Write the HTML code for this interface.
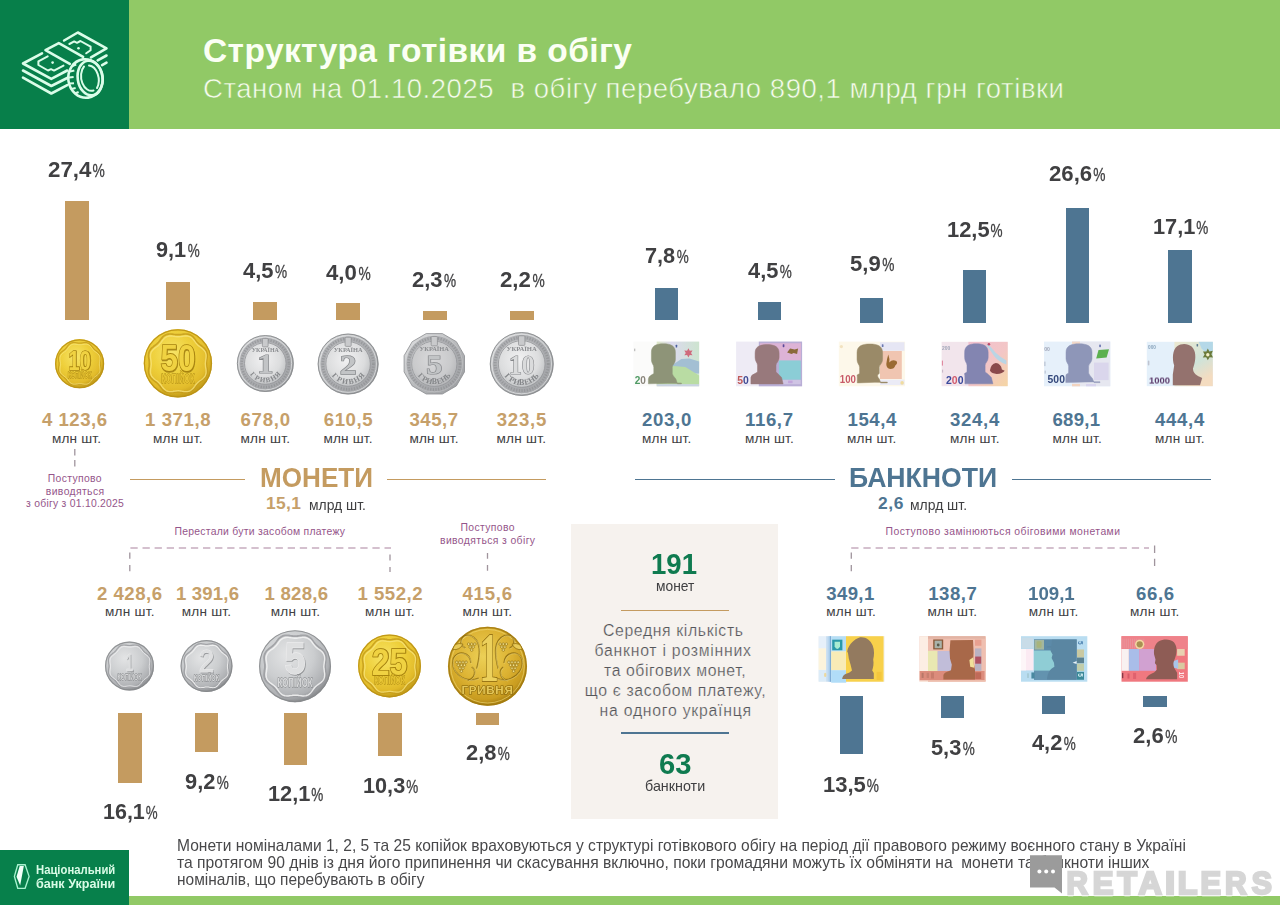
<!DOCTYPE html>
<html lang="uk"><head><meta charset="utf-8"><title>Структура готівки в обігу</title>
<style>
html,body{margin:0;padding:0;background:#fff;}
body{width:1280px;height:905px;position:relative;overflow:hidden;font-family:"Liberation Sans",sans-serif;}
.t{position:absolute;white-space:nowrap;line-height:1;transform-origin:0 50%;}
.p{font-size:17.5px;font-weight:400;display:inline-block;transform:scaleX(.8);transform-origin:0 50%;margin:0 -3.2px 0 1.5px;-webkit-text-stroke:.3px #404042;}
.r{position:absolute;}
svg{position:absolute;overflow:visible;}
</style></head><body>

<div class="r" style="left:0;top:0;width:1280px;height:129px;background:#91c966"></div>
<div class="r" style="left:0;top:0;width:129px;height:129px;background:#077f4a"></div>
<div class="r" style="left:129px;top:896px;width:1151px;height:9px;background:#91c966"></div>
<div class="r" style="left:0;top:849.5px;width:128.7px;height:55.5px;background:#07804b"></div>
<div class="r" style="left:65px;top:201px;width:24px;height:119px;background:#c49b60"></div>
<div class="r" style="left:166px;top:282px;width:24px;height:38px;background:#c49b60"></div>
<div class="r" style="left:253px;top:302px;width:24px;height:18px;background:#c49b60"></div>
<div class="r" style="left:336px;top:303px;width:24px;height:17px;background:#c49b60"></div>
<div class="r" style="left:423px;top:311px;width:24px;height:9px;background:#c49b60"></div>
<div class="r" style="left:510px;top:311px;width:24px;height:9px;background:#c49b60"></div>
<div class="r" style="left:654.5px;top:287.5px;width:23.75px;height:32.5px;background:#4e7592"></div>
<div class="r" style="left:757.5px;top:301.75px;width:23.25px;height:18.25px;background:#4e7592"></div>
<div class="r" style="left:860px;top:298px;width:23.25px;height:24.5px;background:#4e7592"></div>
<div class="r" style="left:963px;top:269.5px;width:23.25px;height:53.0px;background:#4e7592"></div>
<div class="r" style="left:1065.75px;top:208.25px;width:23.5px;height:114.25px;background:#4e7592"></div>
<div class="r" style="left:1168.25px;top:249.5px;width:23.5px;height:73.0px;background:#4e7592"></div>
<div class="r" style="left:130px;top:478.5px;width:115px;height:1.5px;background:#c49b60"></div>
<div class="r" style="left:387px;top:478.5px;width:159.25px;height:1.5px;background:#c49b60"></div>
<div class="r" style="left:635px;top:478.5px;width:200px;height:1.5px;background:#4e7592"></div>
<div class="r" style="left:1012px;top:478.5px;width:199.25px;height:1.5px;background:#4e7592"></div>
<div class="r" style="left:118px;top:713px;width:23.5px;height:69.5px;background:#c49b60"></div>
<div class="r" style="left:195px;top:713px;width:23px;height:38.75px;background:#c49b60"></div>
<div class="r" style="left:284px;top:713px;width:23px;height:52px;background:#c49b60"></div>
<div class="r" style="left:378px;top:713px;width:23.75px;height:43px;background:#c49b60"></div>
<div class="r" style="left:475.5px;top:713px;width:23.5px;height:11.5px;background:#c49b60"></div>
<div class="r" style="left:839.5px;top:695.8px;width:23.5px;height:58.2px;background:#4e7592"></div>
<div class="r" style="left:940.6px;top:695.8px;width:23.4px;height:22.7px;background:#4e7592"></div>
<div class="r" style="left:1042px;top:695.8px;width:23.4px;height:18.2px;background:#4e7592"></div>
<div class="r" style="left:1143px;top:695.8px;width:23.8px;height:11.2px;background:#4e7592"></div>
<div class="r" style="left:571.3px;top:524px;width:207.2px;height:294.6px;background:#f6f2ee"></div>
<div class="r" style="left:620.8px;top:609.7px;width:108.2px;height:1.5px;background:#c49b60"></div>
<div class="r" style="left:620.8px;top:732px;width:108.2px;height:1.5px;background:#4e7592"></div>
<svg width="1280" height="905" viewBox="0 0 1280 905" style="left:0;top:0"><defs>
<radialGradient id="gG" cx="42%" cy="36%" r="62%"><stop offset="0" stop-color="#f7e468"/><stop offset=".5" stop-color="#eecf3a"/><stop offset=".85" stop-color="#e2bb2b"/><stop offset="1" stop-color="#c7a01c"/></radialGradient>
<radialGradient id="gG2" cx="45%" cy="38%" r="60%"><stop offset="0" stop-color="#ecd056"/><stop offset=".6" stop-color="#dcb232"/><stop offset=".9" stop-color="#c99c20"/><stop offset="1" stop-color="#ad8414"/></radialGradient>
<radialGradient id="gS" cx="40%" cy="34%" r="66%"><stop offset="0" stop-color="#e3e4e5"/><stop offset=".55" stop-color="#cbcdcf"/><stop offset=".88" stop-color="#aeb0b3"/><stop offset="1" stop-color="#8d8f92"/></radialGradient>
<linearGradient id="gR" x1="0" y1="0" x2="1" y2="1"><stop offset="0" stop-color="#e2e3e4"/><stop offset=".5" stop-color="#babcbe"/><stop offset="1" stop-color="#96989b"/></linearGradient>
<radialGradient id="gI" cx="45%" cy="40%" r="60%"><stop offset="0" stop-color="#f1f1f2"/><stop offset=".7" stop-color="#dcddde"/><stop offset="1" stop-color="#c2c4c6"/></radialGradient>
<filter id="b3" x="-10%" y="-10%" width="120%" height="120%"><feGaussianBlur stdDeviation=".35"/></filter>
<filter id="b6" x="-10%" y="-10%" width="120%" height="120%"><feGaussianBlur stdDeviation=".6"/></filter>
</defs><g fill="none" stroke="#dbfde9" stroke-width="2.6" stroke-linecap="round" stroke-linejoin="round"><path d="M42,53.3 L23,63.5 L51.3,78.9 L67.2,70.5"/><path d="M69.8,63.9 L45.5,50.2 L58.8,43.1 L83.1,56.8"/><path d="M64.1,40.5 L77.8,32.5 L106.5,48.4 L91,57.3"/><path d="M23,70.5 L51.3,86 L67.2,78"/><path d="M23,77.6 L51.3,93.5 L67.2,85.1"/><path d="M97.7,60.4 L106.5,55.5"/><path d="M102.1,65.2 L106.5,62.6"/><path d="M47.7,56.4 L38.4,61.3 L38.4,65 L48,70.5 L51,69.2 L54,70.6 L63.5,65.6" stroke-width="2"/><path d="M69.4,44 L74.2,41.4 L77,42.8 L80.4,41 L90.6,46.7 L90.6,50.2 L86.2,53.3" stroke-width="2"/></g><circle cx="52.6" cy="62.6" r="1.3" fill="#dbfde9"/><circle cx="78.5" cy="48.2" r="1.3" fill="#dbfde9"/><g fill="none" stroke="#dbfde9" stroke-width="2.6" stroke-linecap="round"><ellipse cx="85.5" cy="78.5" rx="17.2" ry="19.3" fill="#077f4a" transform="rotate(-8 85.5 78.5)"/><ellipse cx="90.1" cy="78" rx="12.4" ry="17.5" transform="rotate(-8 90.1 78)"/><path d="M93.5,90.5 A9.3,13.6 -8 0 1 84,66.5" stroke-width="2"/><path d="M89,65.5 A9.3,13.6 -8 0 1 97,88" stroke-width="2"/></g><g stroke="#dbfde9" stroke-width="2.1" stroke-linecap="butt"><path d="M72.3,66 L76.2,64.6"/><path d="M70,71.5 L74.3,70.5"/><path d="M69,77.5 L73.6,77"/><path d="M69.5,83.5 L74,83.3"/><path d="M71.5,89 L75.6,88"/><path d="M75,93.5 L78.6,92"/></g><g filter="url(#b3)"><circle cx="79.6" cy="363.7" r="24.6" fill="url(#gG)"/><circle cx="79.6" cy="363.7" r="23.900000000000002" fill="none" stroke="#b98f14" stroke-width="1.2" opacity=".85"/><path d="M100.1,363.7 L100.2,364.5 L100.2,365.3 L100.4,366.2 L100.5,367.0 L100.6,367.9 L100.7,368.8 L100.7,369.6 L100.6,370.5 L100.4,371.4 L100.2,372.2 L99.8,373.0 L99.3,373.7 L98.7,374.4 L98.1,375.0 L97.4,375.6 L96.7,376.1 L96.0,376.6 L95.3,377.1 L94.7,377.7 L94.1,378.2 L93.6,378.8 L93.0,379.4 L92.5,380.1 L92.0,380.8 L91.5,381.5 L90.9,382.2 L90.3,382.8 L89.6,383.4 L88.9,383.9 L88.1,384.3 L87.3,384.5 L86.4,384.7 L85.5,384.8 L84.7,384.8 L83.8,384.7 L82.9,384.6 L82.1,384.5 L81.2,384.3 L80.4,384.3 L79.6,384.2 L78.8,384.3 L78.0,384.3 L77.1,384.5 L76.3,384.6 L75.4,384.7 L74.5,384.8 L73.7,384.8 L72.8,384.7 L71.9,384.5 L71.1,384.3 L70.3,383.9 L69.6,383.4 L68.9,382.8 L68.3,382.2 L67.7,381.5 L67.2,380.8 L66.7,380.1 L66.2,379.4 L65.6,378.8 L65.1,378.2 L64.5,377.7 L63.9,377.1 L63.2,376.6 L62.5,376.1 L61.8,375.6 L61.1,375.0 L60.5,374.4 L59.9,373.7 L59.4,373.0 L59.0,372.2 L58.8,371.4 L58.6,370.5 L58.5,369.6 L58.5,368.8 L58.6,367.9 L58.7,367.0 L58.8,366.2 L59.0,365.3 L59.0,364.5 L59.1,363.7 L59.0,362.9 L59.0,362.1 L58.8,361.2 L58.7,360.4 L58.6,359.5 L58.5,358.6 L58.5,357.8 L58.6,356.9 L58.8,356.0 L59.0,355.2 L59.4,354.4 L59.9,353.7 L60.5,353.0 L61.1,352.4 L61.8,351.8 L62.5,351.3 L63.2,350.8 L63.9,350.3 L64.5,349.7 L65.1,349.2 L65.6,348.6 L66.2,348.0 L66.7,347.3 L67.2,346.6 L67.7,345.9 L68.3,345.2 L68.9,344.6 L69.6,344.0 L70.3,343.5 L71.1,343.1 L71.9,342.9 L72.8,342.7 L73.7,342.6 L74.5,342.6 L75.4,342.7 L76.3,342.8 L77.1,342.9 L78.0,343.1 L78.8,343.1 L79.6,343.2 L80.4,343.1 L81.2,343.1 L82.1,342.9 L82.9,342.8 L83.8,342.7 L84.7,342.6 L85.5,342.6 L86.4,342.7 L87.3,342.9 L88.1,343.1 L88.9,343.5 L89.6,344.0 L90.3,344.6 L90.9,345.2 L91.5,345.9 L92.0,346.6 L92.5,347.3 L93.0,348.0 L93.6,348.6 L94.1,349.2 L94.7,349.7 L95.3,350.3 L96.0,350.8 L96.7,351.3 L97.4,351.8 L98.1,352.4 L98.7,353.0 L99.3,353.7 L99.8,354.4 L100.2,355.2 L100.4,356.0 L100.6,356.9 L100.7,357.8 L100.7,358.6 L100.6,359.5 L100.5,360.4 L100.4,361.2 L100.2,362.1 L100.2,362.9Z" fill="none" stroke="#c39a1a" stroke-width="1.23" opacity=".8"/><path d="M99.4,364.2 L99.5,365.0 L99.5,365.7 L99.7,366.5 L99.8,367.3 L99.9,368.2 L100.0,369.0 L100.0,369.8 L100.0,370.7 L99.8,371.5 L99.5,372.3 L99.2,373.0 L98.7,373.7 L98.1,374.4 L97.5,374.9 L96.9,375.5 L96.2,376.0 L95.5,376.5 L94.9,376.9 L94.3,377.4 L93.7,377.9 L93.2,378.5 L92.7,379.1 L92.3,379.7 L91.8,380.4 L91.3,381.1 L90.7,381.7 L90.2,382.3 L89.5,382.9 L88.8,383.4 L88.1,383.7 L87.3,384.0 L86.5,384.2 L85.6,384.2 L84.8,384.2 L84.0,384.1 L83.1,384.0 L82.3,383.9 L81.5,383.7 L80.8,383.7 L80.0,383.6 L79.2,383.7 L78.5,383.7 L77.7,383.9 L76.9,384.0 L76.0,384.1 L75.2,384.2 L74.4,384.2 L73.5,384.2 L72.7,384.0 L71.9,383.7 L71.2,383.4 L70.5,382.9 L69.8,382.3 L69.3,381.7 L68.7,381.1 L68.2,380.4 L67.7,379.7 L67.3,379.1 L66.8,378.5 L66.3,377.9 L65.7,377.4 L65.1,376.9 L64.5,376.5 L63.8,376.0 L63.1,375.5 L62.5,374.9 L61.9,374.4 L61.3,373.7 L60.8,373.0 L60.5,372.3 L60.2,371.5 L60.0,370.7 L60.0,369.8 L60.0,369.0 L60.1,368.2 L60.2,367.3 L60.3,366.5 L60.5,365.7 L60.5,365.0 L60.6,364.2 L60.5,363.4 L60.5,362.7 L60.3,361.9 L60.2,361.1 L60.1,360.2 L60.0,359.4 L60.0,358.6 L60.0,357.7 L60.2,356.9 L60.5,356.1 L60.8,355.4 L61.3,354.7 L61.9,354.0 L62.5,353.5 L63.1,352.9 L63.8,352.4 L64.5,351.9 L65.1,351.5 L65.7,351.0 L66.3,350.5 L66.8,349.9 L67.3,349.3 L67.7,348.7 L68.2,348.0 L68.7,347.3 L69.3,346.7 L69.8,346.1 L70.5,345.5 L71.2,345.0 L71.9,344.7 L72.7,344.4 L73.5,344.2 L74.4,344.2 L75.2,344.2 L76.0,344.3 L76.9,344.4 L77.7,344.5 L78.5,344.7 L79.2,344.7 L80.0,344.8 L80.8,344.7 L81.5,344.7 L82.3,344.5 L83.1,344.4 L84.0,344.3 L84.8,344.2 L85.6,344.2 L86.5,344.2 L87.3,344.4 L88.1,344.7 L88.8,345.0 L89.5,345.5 L90.2,346.1 L90.7,346.7 L91.3,347.3 L91.8,348.0 L92.3,348.7 L92.7,349.3 L93.2,349.9 L93.7,350.5 L94.3,351.0 L94.9,351.5 L95.5,351.9 L96.2,352.4 L96.9,352.9 L97.5,353.5 L98.1,354.0 L98.7,354.7 L99.2,355.4 L99.5,356.1 L99.8,356.9 L100.0,357.7 L100.0,358.6 L100.0,359.4 L99.9,360.2 L99.8,361.1 L99.7,361.9 L99.5,362.7 L99.5,363.4Z" fill="none" stroke="#f8e680" stroke-width="0.98" opacity=".75"/><text x="0" y="0" transform="translate(80.19999999999999,370.36799999999994) scale(0.720,1)" text-anchor="middle" font-family="Liberation Sans, sans-serif" font-weight="700" font-size="28.4" fill="#8a6806" stroke="#8a6806" stroke-width="1.13" opacity=".65">10</text><text x="0" y="0" transform="translate(79.6,369.66799999999995) scale(0.720,1)" text-anchor="middle" font-family="Liberation Sans, sans-serif" font-weight="700" font-size="28.4" fill="#f0d242" stroke="#a8830f" stroke-width="1.13" paint-order="stroke">10</text><text x="0" y="0" transform="translate(79.6,378.091) scale(.62,1)" text-anchor="middle" font-family="Liberation Sans, sans-serif" font-weight="700" font-size="8.6" fill="#e8c432" stroke="#a48010" stroke-width=".8" paint-order="stroke">КОПІЙОК</text></g><g filter="url(#b3)"><circle cx="177.9" cy="363.3" r="34.2" fill="url(#gG)"/><circle cx="177.9" cy="363.3" r="33.5" fill="none" stroke="#b98f14" stroke-width="1.2" opacity=".85"/><path d="M206.5,363.3 L206.5,364.4 L206.6,365.6 L206.7,366.7 L206.9,367.9 L207.1,369.1 L207.2,370.3 L207.2,371.6 L207.1,372.8 L206.9,374.0 L206.5,375.1 L206.0,376.2 L205.3,377.2 L204.5,378.2 L203.6,379.0 L202.6,379.8 L201.7,380.6 L200.7,381.3 L199.8,382.0 L198.9,382.7 L198.1,383.5 L197.3,384.3 L196.6,385.2 L195.9,386.1 L195.2,387.1 L194.4,388.0 L193.6,389.0 L192.8,389.9 L191.8,390.7 L190.8,391.4 L189.7,391.9 L188.6,392.3 L187.4,392.5 L186.2,392.6 L184.9,392.6 L183.7,392.5 L182.5,392.3 L181.3,392.1 L180.2,392.0 L179.0,391.9 L177.9,391.9 L176.8,391.9 L175.6,392.0 L174.5,392.1 L173.3,392.3 L172.1,392.5 L170.9,392.6 L169.6,392.6 L168.4,392.5 L167.2,392.3 L166.1,391.9 L165.0,391.4 L164.0,390.7 L163.0,389.9 L162.2,389.0 L161.4,388.0 L160.6,387.1 L159.9,386.1 L159.2,385.2 L158.5,384.3 L157.7,383.5 L156.9,382.7 L156.0,382.0 L155.1,381.3 L154.1,380.6 L153.2,379.8 L152.2,379.0 L151.3,378.2 L150.5,377.2 L149.8,376.2 L149.3,375.1 L148.9,374.0 L148.7,372.8 L148.6,371.6 L148.6,370.3 L148.7,369.1 L148.9,367.9 L149.1,366.7 L149.2,365.6 L149.3,364.4 L149.3,363.3 L149.3,362.2 L149.2,361.0 L149.1,359.9 L148.9,358.7 L148.7,357.5 L148.6,356.3 L148.6,355.0 L148.7,353.8 L148.9,352.6 L149.3,351.5 L149.8,350.4 L150.5,349.4 L151.3,348.4 L152.2,347.6 L153.2,346.8 L154.1,346.0 L155.1,345.3 L156.0,344.6 L156.9,343.9 L157.7,343.1 L158.5,342.3 L159.2,341.4 L159.9,340.5 L160.6,339.5 L161.4,338.6 L162.2,337.6 L163.0,336.7 L164.0,335.9 L165.0,335.2 L166.1,334.7 L167.2,334.3 L168.4,334.1 L169.6,334.0 L170.9,334.0 L172.1,334.1 L173.3,334.3 L174.5,334.5 L175.6,334.6 L176.8,334.7 L177.9,334.7 L179.0,334.7 L180.2,334.6 L181.3,334.5 L182.5,334.3 L183.7,334.1 L184.9,334.0 L186.2,334.0 L187.4,334.1 L188.6,334.3 L189.7,334.7 L190.8,335.2 L191.8,335.9 L192.8,336.7 L193.6,337.6 L194.4,338.6 L195.2,339.5 L195.9,340.5 L196.6,341.4 L197.3,342.3 L198.1,343.1 L198.9,343.9 L199.8,344.6 L200.7,345.3 L201.7,346.0 L202.6,346.8 L203.6,347.6 L204.5,348.4 L205.3,349.4 L206.0,350.4 L206.5,351.5 L206.9,352.6 L207.1,353.8 L207.2,355.0 L207.2,356.3 L207.1,357.5 L206.9,358.7 L206.7,359.9 L206.6,361.0 L206.5,362.2Z" fill="none" stroke="#c39a1a" stroke-width="1.71" opacity=".8"/><path d="M205.3,363.8 L205.4,364.9 L205.5,365.9 L205.6,367.0 L205.8,368.2 L206.0,369.3 L206.1,370.5 L206.1,371.6 L206.1,372.8 L205.8,374.0 L205.5,375.1 L205.0,376.1 L204.3,377.0 L203.5,377.9 L202.7,378.7 L201.8,379.5 L200.8,380.2 L199.9,380.8 L199.0,381.5 L198.2,382.2 L197.4,382.9 L196.7,383.7 L196.0,384.5 L195.3,385.4 L194.7,386.3 L194.0,387.3 L193.2,388.2 L192.4,389.0 L191.5,389.8 L190.6,390.5 L189.6,391.0 L188.5,391.3 L187.3,391.6 L186.1,391.6 L185.0,391.6 L183.8,391.5 L182.7,391.3 L181.5,391.1 L180.4,391.0 L179.4,390.9 L178.3,390.8 L177.2,390.9 L176.2,391.0 L175.1,391.1 L173.9,391.3 L172.8,391.5 L171.6,391.6 L170.5,391.6 L169.3,391.6 L168.1,391.3 L167.0,391.0 L166.0,390.5 L165.1,389.8 L164.2,389.0 L163.4,388.2 L162.6,387.3 L161.9,386.3 L161.3,385.4 L160.6,384.5 L159.9,383.7 L159.2,382.9 L158.4,382.2 L157.6,381.5 L156.7,380.8 L155.8,380.2 L154.8,379.5 L153.9,378.7 L153.1,377.9 L152.3,377.0 L151.6,376.1 L151.1,375.1 L150.8,374.0 L150.5,372.8 L150.5,371.6 L150.5,370.5 L150.6,369.3 L150.8,368.2 L151.0,367.0 L151.1,365.9 L151.2,364.9 L151.3,363.8 L151.2,362.7 L151.1,361.7 L151.0,360.6 L150.8,359.4 L150.6,358.3 L150.5,357.1 L150.5,356.0 L150.5,354.8 L150.8,353.6 L151.1,352.5 L151.6,351.5 L152.3,350.6 L153.1,349.7 L153.9,348.9 L154.8,348.1 L155.8,347.4 L156.7,346.8 L157.6,346.1 L158.4,345.4 L159.2,344.7 L159.9,343.9 L160.6,343.1 L161.3,342.2 L161.9,341.3 L162.6,340.3 L163.4,339.4 L164.2,338.6 L165.1,337.8 L166.0,337.1 L167.0,336.6 L168.1,336.3 L169.3,336.0 L170.5,336.0 L171.6,336.0 L172.8,336.1 L173.9,336.3 L175.1,336.5 L176.2,336.6 L177.2,336.7 L178.3,336.8 L179.4,336.7 L180.4,336.6 L181.5,336.5 L182.7,336.3 L183.8,336.1 L185.0,336.0 L186.1,336.0 L187.3,336.0 L188.5,336.3 L189.6,336.6 L190.6,337.1 L191.5,337.8 L192.4,338.6 L193.2,339.4 L194.0,340.3 L194.7,341.3 L195.3,342.2 L196.0,343.1 L196.7,343.9 L197.4,344.7 L198.2,345.4 L199.0,346.1 L199.9,346.8 L200.8,347.4 L201.8,348.1 L202.7,348.9 L203.5,349.7 L204.3,350.6 L205.0,351.5 L205.5,352.5 L205.8,353.6 L206.1,354.8 L206.1,356.0 L206.1,357.1 L206.0,358.3 L205.8,359.4 L205.6,360.6 L205.5,361.7 L205.4,362.7Z" fill="none" stroke="#f8e680" stroke-width="1.37" opacity=".75"/><text x="0" y="0" transform="translate(178.5,371.686) scale(0.835,1)" text-anchor="middle" font-family="Liberation Sans, sans-serif" font-weight="700" font-size="37.7" fill="#8a6806" stroke="#8a6806" stroke-width="1.51" opacity=".65">50</text><text x="0" y="0" transform="translate(177.9,370.986) scale(0.835,1)" text-anchor="middle" font-family="Liberation Sans, sans-serif" font-weight="700" font-size="37.7" fill="#f0d242" stroke="#a8830f" stroke-width="1.51" paint-order="stroke">50</text><text x="0" y="0" transform="translate(177.9,383.307) scale(.62,1)" text-anchor="middle" font-family="Liberation Sans, sans-serif" font-weight="700" font-size="11.9" fill="#e8c432" stroke="#a48010" stroke-width=".8" paint-order="stroke">КОПІЙОК</text></g><g filter="url(#b3)"><circle cx="265.3" cy="363.5" r="28.5" fill="url(#gR)"/><circle cx="265.3" cy="363.5" r="27.9" fill="none" stroke="#85878a" stroke-width="1" opacity=".85"/><circle cx="265.3" cy="363.5" r="26.3" fill="none" stroke="#e0e1e2" stroke-width="1" opacity=".8"/><circle cx="265.3" cy="363.5" r="23.654999999999998" fill="none" stroke="#a6a8ab" stroke-width="4.27" opacity=".8"/><circle cx="265.3" cy="363.5" r="23.654999999999998" fill="none" stroke="#86888b" stroke-width="2.56" stroke-dasharray="1.2 1.5" opacity=".55"/><circle cx="265.3" cy="363.5" r="20.805" fill="url(#gI)" stroke="#909295" stroke-width=".8"/><rect x="262.4" y="338.4" width="5.7" height="8.5" rx="1" fill="#c9cacc" stroke="#8c8e91" stroke-width=".7"/><text x="0" y="0" transform="translate(265.3,352.1) scale(.95,1)" text-anchor="middle" font-family="Liberation Serif, serif" font-weight="700" font-size="6.3" fill="#8a8c8f">УКРАЇНА</text><text x="0" y="0" transform="translate(265.3,373.22) scale(1.2,1)" text-anchor="middle" font-family="Liberation Serif, serif" font-weight="700" font-size="27" fill="#c2c4c6" stroke="#86888b" stroke-width="1.21" paint-order="stroke">1</text><text x="0" y="0" transform="translate(251.3,376.1) rotate(48)" text-anchor="middle" font-family="Liberation Serif, serif" font-weight="700" font-size="7.125" fill="#85878a">Г</text><text x="0" y="0" transform="translate(256.2,380.0) rotate(29)" text-anchor="middle" font-family="Liberation Serif, serif" font-weight="700" font-size="7.125" fill="#85878a">Р</text><text x="0" y="0" transform="translate(262.2,382.0) rotate(10)" text-anchor="middle" font-family="Liberation Serif, serif" font-weight="700" font-size="7.125" fill="#85878a">И</text><text x="0" y="0" transform="translate(268.4,382.0) rotate(-10)" text-anchor="middle" font-family="Liberation Serif, serif" font-weight="700" font-size="7.125" fill="#85878a">В</text><text x="0" y="0" transform="translate(274.4,380.0) rotate(-29)" text-anchor="middle" font-family="Liberation Serif, serif" font-weight="700" font-size="7.125" fill="#85878a">Н</text><text x="0" y="0" transform="translate(279.3,376.1) rotate(-48)" text-anchor="middle" font-family="Liberation Serif, serif" font-weight="700" font-size="7.125" fill="#85878a">Я</text></g><g filter="url(#b3)"><circle cx="348.1" cy="364" r="30.5" fill="url(#gR)"/><circle cx="348.1" cy="364" r="29.9" fill="none" stroke="#85878a" stroke-width="1" opacity=".85"/><circle cx="348.1" cy="364" r="28.3" fill="none" stroke="#e0e1e2" stroke-width="1" opacity=".8"/><circle cx="348.1" cy="364" r="25.314999999999998" fill="none" stroke="#a6a8ab" stroke-width="4.58" opacity=".8"/><circle cx="348.1" cy="364" r="25.314999999999998" fill="none" stroke="#86888b" stroke-width="2.75" stroke-dasharray="1.2 1.5" opacity=".55"/><circle cx="348.1" cy="364" r="22.265" fill="url(#gI)" stroke="#909295" stroke-width=".8"/><rect x="345.1" y="337.2" width="6.1" height="9.2" rx="1" fill="#c9cacc" stroke="#8c8e91" stroke-width=".7"/><text x="0" y="0" transform="translate(348.1,351.8) scale(.95,1)" text-anchor="middle" font-family="Liberation Serif, serif" font-weight="700" font-size="6.7" fill="#8a8c8f">УКРАЇНА</text><text x="0" y="0" transform="translate(348.1,374.08) scale(1.2,1)" text-anchor="middle" font-family="Liberation Serif, serif" font-weight="700" font-size="28" fill="#c2c4c6" stroke="#86888b" stroke-width="1.26" paint-order="stroke">2</text><text x="0" y="0" transform="translate(333.1,377.5) rotate(48)" text-anchor="middle" font-family="Liberation Serif, serif" font-weight="700" font-size="7.625" fill="#85878a">Г</text><text x="0" y="0" transform="translate(338.4,381.6) rotate(29)" text-anchor="middle" font-family="Liberation Serif, serif" font-weight="700" font-size="7.625" fill="#85878a">Р</text><text x="0" y="0" transform="translate(344.7,383.8) rotate(10)" text-anchor="middle" font-family="Liberation Serif, serif" font-weight="700" font-size="7.625" fill="#85878a">И</text><text x="0" y="0" transform="translate(351.5,383.8) rotate(-10)" text-anchor="middle" font-family="Liberation Serif, serif" font-weight="700" font-size="7.625" fill="#85878a">В</text><text x="0" y="0" transform="translate(357.8,381.6) rotate(-29)" text-anchor="middle" font-family="Liberation Serif, serif" font-weight="700" font-size="7.625" fill="#85878a">Н</text><text x="0" y="0" transform="translate(363.1,377.5) rotate(-48)" text-anchor="middle" font-family="Liberation Serif, serif" font-weight="700" font-size="7.625" fill="#85878a">Я</text></g><g filter="url(#b3)"><polygon points="464.5,371.9 456.4,385.9 442.4,394.0 426.2,394.0 412.2,385.9 404.1,371.9 404.1,355.7 412.2,341.7 426.2,333.6 442.4,333.6 456.4,341.7 464.5,355.7" fill="url(#gR)" stroke="#8a8c8f" stroke-width=".8" stroke-linejoin="round"/><circle cx="434.3" cy="363.8" r="27.900000000000002" fill="none" stroke="#e4e5e6" stroke-width=".8" opacity=".8"/><circle cx="434.3" cy="363.8" r="25.73" fill="none" stroke="#a6a8ab" stroke-width="4.65" opacity=".8"/><circle cx="434.3" cy="363.8" r="25.73" fill="none" stroke="#86888b" stroke-width="2.79" stroke-dasharray="1.2 1.5" opacity=".55"/><circle cx="434.3" cy="363.8" r="22.63" fill="url(#gI)" stroke="#909295" stroke-width=".8"/><circle cx="434.3" cy="363.8" r="22.32" fill="#9a9c9f" opacity=".28"/><rect x="431.2" y="336.5" width="6.2" height="9.3" rx="1" fill="#c9cacc" stroke="#8c8e91" stroke-width=".7"/><text x="0" y="0" transform="translate(434.3,351.40000000000003) scale(.95,1)" text-anchor="middle" font-family="Liberation Serif, serif" font-weight="700" font-size="6.8" fill="#8a8c8f">УКРАЇНА</text><text x="0" y="0" transform="translate(434.3,373.52) scale(1.2,1)" text-anchor="middle" font-family="Liberation Serif, serif" font-weight="700" font-size="27" fill="#c2c4c6" stroke="#86888b" stroke-width="1.21" paint-order="stroke">5</text><text x="0" y="0" transform="translate(419.1,377.5) rotate(48)" text-anchor="middle" font-family="Liberation Serif, serif" font-weight="700" font-size="7.75" fill="#85878a">Г</text><text x="0" y="0" transform="translate(423.5,381.2) rotate(32)" text-anchor="middle" font-family="Liberation Serif, serif" font-weight="700" font-size="7.75" fill="#85878a">Р</text><text x="0" y="0" transform="translate(428.7,383.5) rotate(16)" text-anchor="middle" font-family="Liberation Serif, serif" font-weight="700" font-size="7.75" fill="#85878a">И</text><text x="0" y="0" transform="translate(434.3,384.3) rotate(0)" text-anchor="middle" font-family="Liberation Serif, serif" font-weight="700" font-size="7.75" fill="#85878a">В</text><text x="0" y="0" transform="translate(439.9,383.5) rotate(-16)" text-anchor="middle" font-family="Liberation Serif, serif" font-weight="700" font-size="7.75" fill="#85878a">Е</text><text x="0" y="0" transform="translate(445.1,381.2) rotate(-32)" text-anchor="middle" font-family="Liberation Serif, serif" font-weight="700" font-size="7.75" fill="#85878a">Н</text><text x="0" y="0" transform="translate(449.5,377.5) rotate(-48)" text-anchor="middle" font-family="Liberation Serif, serif" font-weight="700" font-size="7.75" fill="#85878a">Ь</text></g><g filter="url(#b3)"><circle cx="521.7" cy="364" r="32" fill="url(#gR)"/><circle cx="521.7" cy="364" r="31.4" fill="none" stroke="#85878a" stroke-width="1" opacity=".85"/><circle cx="521.7" cy="364" r="29.8" fill="none" stroke="#e0e1e2" stroke-width="1" opacity=".8"/><circle cx="521.7" cy="364" r="26.56" fill="none" stroke="#a6a8ab" stroke-width="4.80" opacity=".8"/><circle cx="521.7" cy="364" r="26.56" fill="none" stroke="#86888b" stroke-width="2.88" stroke-dasharray="1.2 1.5" opacity=".55"/><circle cx="521.7" cy="364" r="23.36" fill="url(#gI)" stroke="#909295" stroke-width=".8"/><rect x="518.5" y="335.8" width="6.4" height="9.6" rx="1" fill="#c9cacc" stroke="#8c8e91" stroke-width=".7"/><text x="0" y="0" transform="translate(521.7,351.2) scale(.95,1)" text-anchor="middle" font-family="Liberation Serif, serif" font-weight="700" font-size="7.0" fill="#8a8c8f">УКРАЇНА</text><text x="0" y="0" transform="translate(521.7,373.72) scale(0.95,1)" text-anchor="middle" font-family="Liberation Serif, serif" font-weight="700" font-size="27" fill="#dadbdc" stroke="#86888b" stroke-width="1.21" paint-order="stroke">10</text><text x="0" y="0" transform="translate(506.0,378.1) rotate(48)" text-anchor="middle" font-family="Liberation Serif, serif" font-weight="700" font-size="8.0" fill="#85878a">Г</text><text x="0" y="0" transform="translate(510.5,381.9) rotate(32)" text-anchor="middle" font-family="Liberation Serif, serif" font-weight="700" font-size="8.0" fill="#85878a">Р</text><text x="0" y="0" transform="translate(515.9,384.3) rotate(16)" text-anchor="middle" font-family="Liberation Serif, serif" font-weight="700" font-size="8.0" fill="#85878a">И</text><text x="0" y="0" transform="translate(521.7,385.1) rotate(0)" text-anchor="middle" font-family="Liberation Serif, serif" font-weight="700" font-size="8.0" fill="#85878a">В</text><text x="0" y="0" transform="translate(527.5,384.3) rotate(-16)" text-anchor="middle" font-family="Liberation Serif, serif" font-weight="700" font-size="8.0" fill="#85878a">Е</text><text x="0" y="0" transform="translate(532.9,381.9) rotate(-32)" text-anchor="middle" font-family="Liberation Serif, serif" font-weight="700" font-size="8.0" fill="#85878a">Н</text><text x="0" y="0" transform="translate(537.4,378.1) rotate(-48)" text-anchor="middle" font-family="Liberation Serif, serif" font-weight="700" font-size="8.0" fill="#85878a">Ь</text></g><g filter="url(#b3)"><circle cx="129.5" cy="666" r="24.5" fill="url(#gS)"/><circle cx="129.5" cy="666" r="23.9" fill="none" stroke="#86888b" stroke-width="1.1" opacity=".85"/><path d="M150.0,666.0 L150.0,666.8 L150.1,667.6 L150.2,668.4 L150.3,669.3 L150.4,670.2 L150.5,671.0 L150.5,671.9 L150.4,672.8 L150.3,673.7 L150.0,674.5 L149.6,675.3 L149.1,676.0 L148.5,676.7 L147.9,677.3 L147.2,677.8 L146.5,678.4 L145.8,678.9 L145.2,679.4 L144.6,679.9 L144.0,680.5 L143.4,681.1 L142.9,681.7 L142.4,682.3 L141.9,683.0 L141.3,683.7 L140.8,684.4 L140.2,685.0 L139.5,685.6 L138.8,686.1 L138.0,686.5 L137.2,686.8 L136.3,686.9 L135.4,687.0 L134.5,687.0 L133.7,686.9 L132.8,686.8 L131.9,686.7 L131.1,686.6 L130.3,686.5 L129.5,686.5 L128.7,686.5 L127.9,686.6 L127.1,686.7 L126.2,686.8 L125.3,686.9 L124.5,687.0 L123.6,687.0 L122.7,686.9 L121.8,686.8 L121.0,686.5 L120.2,686.1 L119.5,685.6 L118.8,685.0 L118.2,684.4 L117.7,683.7 L117.1,683.0 L116.6,682.3 L116.1,681.7 L115.6,681.1 L115.0,680.5 L114.4,679.9 L113.8,679.4 L113.2,678.9 L112.5,678.4 L111.8,677.8 L111.1,677.3 L110.5,676.7 L109.9,676.0 L109.4,675.3 L109.0,674.5 L108.7,673.7 L108.6,672.8 L108.5,671.9 L108.5,671.0 L108.6,670.2 L108.7,669.3 L108.8,668.4 L108.9,667.6 L109.0,666.8 L109.0,666.0 L109.0,665.2 L108.9,664.4 L108.8,663.6 L108.7,662.7 L108.6,661.8 L108.5,661.0 L108.5,660.1 L108.6,659.2 L108.7,658.3 L109.0,657.5 L109.4,656.7 L109.9,656.0 L110.5,655.3 L111.1,654.7 L111.8,654.2 L112.5,653.6 L113.2,653.1 L113.8,652.6 L114.4,652.1 L115.0,651.5 L115.6,650.9 L116.1,650.3 L116.6,649.7 L117.1,649.0 L117.7,648.3 L118.2,647.6 L118.8,647.0 L119.5,646.4 L120.2,645.9 L121.0,645.5 L121.8,645.2 L122.7,645.1 L123.6,645.0 L124.5,645.0 L125.3,645.1 L126.2,645.2 L127.1,645.3 L127.9,645.4 L128.7,645.5 L129.5,645.5 L130.3,645.5 L131.1,645.4 L131.9,645.3 L132.8,645.2 L133.7,645.1 L134.5,645.0 L135.4,645.0 L136.3,645.1 L137.2,645.2 L138.0,645.5 L138.8,645.9 L139.5,646.4 L140.2,647.0 L140.8,647.6 L141.3,648.3 L141.9,649.0 L142.4,649.7 L142.9,650.3 L143.4,650.9 L144.0,651.5 L144.6,652.1 L145.2,652.6 L145.8,653.1 L146.5,653.6 L147.2,654.2 L147.9,654.7 L148.5,655.3 L149.1,656.0 L149.6,656.7 L150.0,657.5 L150.3,658.3 L150.4,659.2 L150.5,660.1 L150.5,661.0 L150.4,661.8 L150.3,662.7 L150.2,663.6 L150.1,664.4 L150.0,665.2Z" fill="none" stroke="#97999c" stroke-width="1.23" opacity=".8"/><path d="M149.3,666.5 L149.3,667.3 L149.4,668.0 L149.5,668.8 L149.6,669.6 L149.7,670.4 L149.8,671.3 L149.8,672.1 L149.8,673.0 L149.6,673.8 L149.4,674.6 L149.0,675.3 L148.5,676.0 L148.0,676.6 L147.4,677.2 L146.7,677.7 L146.0,678.2 L145.4,678.7 L144.7,679.2 L144.1,679.7 L143.6,680.2 L143.1,680.7 L142.6,681.3 L142.1,682.0 L141.6,682.6 L141.1,683.3 L140.6,684.0 L140.0,684.6 L139.4,685.1 L138.7,685.6 L138.0,686.0 L137.2,686.2 L136.4,686.4 L135.5,686.4 L134.7,686.4 L133.8,686.3 L133.0,686.2 L132.2,686.1 L131.4,686.0 L130.7,685.9 L129.9,685.9 L129.1,685.9 L128.4,686.0 L127.6,686.1 L126.8,686.2 L126.0,686.3 L125.1,686.4 L124.3,686.4 L123.4,686.4 L122.6,686.2 L121.8,686.0 L121.1,685.6 L120.4,685.1 L119.8,684.6 L119.2,684.0 L118.7,683.3 L118.2,682.6 L117.7,682.0 L117.2,681.3 L116.7,680.7 L116.2,680.2 L115.7,679.7 L115.1,679.2 L114.4,678.7 L113.8,678.2 L113.1,677.7 L112.4,677.2 L111.8,676.6 L111.3,676.0 L110.8,675.3 L110.4,674.6 L110.2,673.8 L110.0,673.0 L110.0,672.1 L110.0,671.3 L110.1,670.4 L110.2,669.6 L110.3,668.8 L110.4,668.0 L110.5,667.3 L110.5,666.5 L110.5,665.7 L110.4,665.0 L110.3,664.2 L110.2,663.4 L110.1,662.6 L110.0,661.7 L110.0,660.9 L110.0,660.0 L110.2,659.2 L110.4,658.4 L110.8,657.7 L111.3,657.0 L111.8,656.4 L112.4,655.8 L113.1,655.3 L113.8,654.8 L114.4,654.3 L115.1,653.8 L115.7,653.3 L116.2,652.8 L116.7,652.3 L117.2,651.7 L117.7,651.0 L118.2,650.4 L118.7,649.7 L119.2,649.0 L119.8,648.4 L120.4,647.9 L121.1,647.4 L121.8,647.0 L122.6,646.8 L123.4,646.6 L124.3,646.6 L125.1,646.6 L126.0,646.7 L126.8,646.8 L127.6,646.9 L128.4,647.0 L129.1,647.1 L129.9,647.1 L130.7,647.1 L131.4,647.0 L132.2,646.9 L133.0,646.8 L133.8,646.7 L134.7,646.6 L135.5,646.6 L136.4,646.6 L137.2,646.8 L138.0,647.0 L138.7,647.4 L139.4,647.9 L140.0,648.4 L140.6,649.0 L141.1,649.7 L141.6,650.4 L142.1,651.0 L142.6,651.7 L143.1,652.3 L143.6,652.8 L144.1,653.3 L144.7,653.8 L145.4,654.3 L146.0,654.8 L146.7,655.3 L147.4,655.8 L148.0,656.4 L148.5,657.0 L149.0,657.7 L149.4,658.4 L149.6,659.2 L149.8,660.0 L149.8,660.9 L149.8,661.7 L149.7,662.6 L149.6,663.4 L149.5,664.2 L149.4,665.0 L149.3,665.7Z" fill="none" stroke="#f4f4f5" stroke-width="0.98" opacity=".85"/><text x="0" y="0" transform="translate(130.2,671.875) scale(0.552,1)" text-anchor="middle" font-family="Liberation Sans, sans-serif" font-weight="400" font-size="24.4" fill="#76787b" stroke="#76787b" stroke-width="0.73" opacity=".65">1</text><text x="0" y="0" transform="translate(129.5,671.075) scale(0.552,1)" text-anchor="middle" font-family="Liberation Sans, sans-serif" font-weight="400" font-size="24.4" fill="#dedfe0" stroke="#ececed" stroke-width="0.73" paint-order="stroke">1</text><text x="0" y="0" transform="translate(129.5,680.3325) scale(.62,1)" text-anchor="middle" font-family="Liberation Sans, sans-serif" font-weight="700" font-size="8.6" fill="#d8d9da" stroke="#77797c" stroke-width=".8" paint-order="stroke">КОПІЙОК</text></g><g filter="url(#b3)"><circle cx="206.5" cy="666" r="26" fill="url(#gS)"/><circle cx="206.5" cy="666" r="25.4" fill="none" stroke="#86888b" stroke-width="1.1" opacity=".85"/><path d="M228.2,666.0 L228.2,666.9 L228.3,667.7 L228.4,668.6 L228.6,669.5 L228.7,670.4 L228.8,671.3 L228.8,672.3 L228.7,673.2 L228.5,674.1 L228.2,675.0 L227.8,675.8 L227.3,676.6 L226.7,677.3 L226.0,678.0 L225.3,678.6 L224.6,679.1 L223.8,679.7 L223.1,680.2 L222.5,680.8 L221.9,681.4 L221.3,682.0 L220.7,682.6 L220.2,683.3 L219.6,684.1 L219.1,684.8 L218.5,685.5 L217.8,686.2 L217.1,686.8 L216.3,687.3 L215.5,687.7 L214.6,688.0 L213.7,688.2 L212.8,688.3 L211.8,688.3 L210.9,688.2 L210.0,688.1 L209.1,687.9 L208.2,687.8 L207.4,687.7 L206.5,687.7 L205.6,687.7 L204.8,687.8 L203.9,687.9 L203.0,688.1 L202.1,688.2 L201.2,688.3 L200.2,688.3 L199.3,688.2 L198.4,688.0 L197.5,687.7 L196.7,687.3 L195.9,686.8 L195.2,686.2 L194.5,685.5 L193.9,684.8 L193.4,684.1 L192.8,683.3 L192.3,682.6 L191.7,682.0 L191.1,681.4 L190.5,680.8 L189.9,680.2 L189.2,679.7 L188.4,679.1 L187.7,678.6 L187.0,678.0 L186.3,677.3 L185.7,676.6 L185.2,675.8 L184.8,675.0 L184.5,674.1 L184.3,673.2 L184.2,672.3 L184.2,671.3 L184.3,670.4 L184.4,669.5 L184.6,668.6 L184.7,667.7 L184.8,666.9 L184.8,666.0 L184.8,665.1 L184.7,664.3 L184.6,663.4 L184.4,662.5 L184.3,661.6 L184.2,660.7 L184.2,659.7 L184.3,658.8 L184.5,657.9 L184.8,657.0 L185.2,656.2 L185.7,655.4 L186.3,654.7 L187.0,654.0 L187.7,653.4 L188.4,652.9 L189.2,652.3 L189.9,651.8 L190.5,651.2 L191.1,650.6 L191.7,650.0 L192.3,649.4 L192.8,648.7 L193.4,647.9 L193.9,647.2 L194.5,646.5 L195.2,645.8 L195.9,645.2 L196.7,644.7 L197.5,644.3 L198.4,644.0 L199.3,643.8 L200.2,643.7 L201.2,643.7 L202.1,643.8 L203.0,643.9 L203.9,644.1 L204.8,644.2 L205.6,644.3 L206.5,644.3 L207.4,644.3 L208.2,644.2 L209.1,644.1 L210.0,643.9 L210.9,643.8 L211.8,643.7 L212.8,643.7 L213.7,643.8 L214.6,644.0 L215.5,644.3 L216.3,644.7 L217.1,645.2 L217.8,645.8 L218.5,646.5 L219.1,647.2 L219.6,647.9 L220.2,648.7 L220.7,649.4 L221.3,650.0 L221.9,650.6 L222.5,651.2 L223.1,651.8 L223.8,652.3 L224.6,652.9 L225.3,653.4 L226.0,654.0 L226.7,654.7 L227.3,655.4 L227.8,656.2 L228.2,657.0 L228.5,657.9 L228.7,658.8 L228.8,659.7 L228.8,660.7 L228.7,661.6 L228.6,662.5 L228.4,663.4 L228.3,664.3 L228.2,665.1Z" fill="none" stroke="#97999c" stroke-width="1.30" opacity=".8"/><path d="M227.4,666.5 L227.5,667.3 L227.5,668.1 L227.7,669.0 L227.8,669.8 L227.9,670.7 L228.0,671.6 L228.1,672.5 L228.0,673.4 L227.8,674.2 L227.6,675.1 L227.2,675.8 L226.7,676.6 L226.1,677.2 L225.4,677.9 L224.7,678.4 L224.0,678.9 L223.3,679.4 L222.7,680.0 L222.0,680.5 L221.4,681.0 L220.9,681.6 L220.4,682.3 L219.8,682.9 L219.3,683.6 L218.8,684.3 L218.3,685.0 L217.6,685.7 L217.0,686.3 L216.2,686.8 L215.5,687.2 L214.6,687.4 L213.8,687.6 L212.9,687.7 L212.0,687.6 L211.1,687.5 L210.2,687.4 L209.4,687.3 L208.5,687.1 L207.7,687.1 L206.9,687.0 L206.1,687.1 L205.3,687.1 L204.4,687.3 L203.6,687.4 L202.7,687.5 L201.8,687.6 L200.9,687.7 L200.0,687.6 L199.2,687.4 L198.3,687.2 L197.6,686.8 L196.8,686.3 L196.2,685.7 L195.5,685.0 L195.0,684.3 L194.5,683.6 L194.0,682.9 L193.4,682.3 L192.9,681.6 L192.4,681.0 L191.8,680.5 L191.1,680.0 L190.5,679.4 L189.8,678.9 L189.1,678.4 L188.4,677.9 L187.7,677.2 L187.1,676.6 L186.6,675.8 L186.2,675.1 L186.0,674.2 L185.8,673.4 L185.7,672.5 L185.8,671.6 L185.9,670.7 L186.0,669.8 L186.1,669.0 L186.3,668.1 L186.3,667.3 L186.4,666.5 L186.3,665.7 L186.3,664.9 L186.1,664.0 L186.0,663.2 L185.9,662.3 L185.8,661.4 L185.7,660.5 L185.8,659.6 L186.0,658.8 L186.2,657.9 L186.6,657.2 L187.1,656.4 L187.7,655.8 L188.4,655.1 L189.1,654.6 L189.8,654.1 L190.5,653.6 L191.1,653.0 L191.8,652.5 L192.4,652.0 L192.9,651.4 L193.4,650.7 L194.0,650.1 L194.5,649.4 L195.0,648.7 L195.5,648.0 L196.2,647.3 L196.8,646.7 L197.6,646.2 L198.3,645.8 L199.2,645.6 L200.0,645.4 L200.9,645.3 L201.8,645.4 L202.7,645.5 L203.6,645.6 L204.4,645.7 L205.3,645.9 L206.1,645.9 L206.9,646.0 L207.7,645.9 L208.5,645.9 L209.4,645.7 L210.2,645.6 L211.1,645.5 L212.0,645.4 L212.9,645.3 L213.8,645.4 L214.6,645.6 L215.5,645.8 L216.2,646.2 L217.0,646.7 L217.6,647.3 L218.3,648.0 L218.8,648.7 L219.3,649.4 L219.8,650.1 L220.4,650.7 L220.9,651.4 L221.4,652.0 L222.0,652.5 L222.7,653.0 L223.3,653.6 L224.0,654.1 L224.7,654.6 L225.4,655.1 L226.1,655.8 L226.7,656.4 L227.2,657.2 L227.6,657.9 L227.8,658.8 L228.0,659.6 L228.1,660.5 L228.0,661.4 L227.9,662.3 L227.8,663.2 L227.7,664.0 L227.5,664.9 L227.5,665.7Z" fill="none" stroke="#f4f4f5" stroke-width="1.04" opacity=".85"/><text x="0" y="0" transform="translate(207.2,672.8499999999999) scale(0.887,1)" text-anchor="middle" font-family="Liberation Sans, sans-serif" font-weight="400" font-size="31.4" fill="#76787b" stroke="#76787b" stroke-width="0.94" opacity=".65">2</text><text x="0" y="0" transform="translate(206.5,672.05) scale(0.887,1)" text-anchor="middle" font-family="Liberation Sans, sans-serif" font-weight="400" font-size="31.4" fill="#dedfe0" stroke="#ececed" stroke-width="0.94" paint-order="stroke">2</text><text x="0" y="0" transform="translate(206.5,681.21) scale(.62,1)" text-anchor="middle" font-family="Liberation Sans, sans-serif" font-weight="700" font-size="9.1" fill="#d8d9da" stroke="#77797c" stroke-width=".8" paint-order="stroke">КОПІЙОК</text></g><g filter="url(#b3)"><circle cx="295" cy="666.2" r="36" fill="url(#gS)"/><circle cx="295" cy="666.2" r="35.4" fill="none" stroke="#86888b" stroke-width="1.1" opacity=".85"/><path d="M325.1,666.2 L325.1,667.4 L325.2,668.6 L325.4,669.8 L325.5,671.0 L325.7,672.3 L325.8,673.6 L325.9,674.9 L325.8,676.2 L325.5,677.5 L325.1,678.7 L324.5,679.8 L323.8,680.9 L323.0,681.9 L322.0,682.8 L321.0,683.6 L320.0,684.4 L319.0,685.1 L318.0,685.9 L317.1,686.6 L316.3,687.5 L315.4,688.3 L314.7,689.2 L313.9,690.2 L313.2,691.2 L312.4,692.2 L311.6,693.2 L310.7,694.2 L309.7,695.0 L308.6,695.7 L307.5,696.3 L306.3,696.7 L305.0,697.0 L303.7,697.1 L302.4,697.0 L301.1,696.9 L299.8,696.7 L298.6,696.6 L297.4,696.4 L296.2,696.3 L295.0,696.3 L293.8,696.3 L292.6,696.4 L291.4,696.6 L290.2,696.7 L288.9,696.9 L287.6,697.0 L286.3,697.1 L285.0,697.0 L283.7,696.7 L282.5,696.3 L281.4,695.7 L280.3,695.0 L279.3,694.2 L278.4,693.2 L277.6,692.2 L276.8,691.2 L276.1,690.2 L275.3,689.2 L274.6,688.3 L273.7,687.5 L272.9,686.6 L272.0,685.9 L271.0,685.1 L270.0,684.4 L269.0,683.6 L268.0,682.8 L267.0,681.9 L266.2,680.9 L265.5,679.8 L264.9,678.7 L264.5,677.5 L264.2,676.2 L264.1,674.9 L264.2,673.6 L264.3,672.3 L264.5,671.0 L264.6,669.8 L264.8,668.6 L264.9,667.4 L264.9,666.2 L264.9,665.0 L264.8,663.8 L264.6,662.6 L264.5,661.4 L264.3,660.1 L264.2,658.8 L264.1,657.5 L264.2,656.2 L264.5,654.9 L264.9,653.7 L265.5,652.6 L266.2,651.5 L267.0,650.5 L268.0,649.6 L269.0,648.8 L270.0,648.0 L271.0,647.3 L272.0,646.5 L272.9,645.8 L273.7,644.9 L274.6,644.1 L275.3,643.2 L276.1,642.2 L276.8,641.2 L277.6,640.2 L278.4,639.2 L279.3,638.2 L280.3,637.4 L281.4,636.7 L282.5,636.1 L283.7,635.7 L285.0,635.4 L286.3,635.3 L287.6,635.4 L288.9,635.5 L290.2,635.7 L291.4,635.8 L292.6,636.0 L293.8,636.1 L295.0,636.1 L296.2,636.1 L297.4,636.0 L298.6,635.8 L299.8,635.7 L301.1,635.5 L302.4,635.4 L303.7,635.3 L305.0,635.4 L306.3,635.7 L307.5,636.1 L308.6,636.7 L309.7,637.4 L310.7,638.2 L311.6,639.2 L312.4,640.2 L313.2,641.2 L313.9,642.2 L314.7,643.2 L315.4,644.1 L316.3,644.9 L317.1,645.8 L318.0,646.5 L319.0,647.3 L320.0,648.0 L321.0,648.8 L322.0,649.6 L323.0,650.5 L323.8,651.5 L324.5,652.6 L325.1,653.7 L325.5,654.9 L325.8,656.2 L325.9,657.5 L325.8,658.8 L325.7,660.1 L325.5,661.4 L325.4,662.6 L325.2,663.8 L325.1,665.0Z" fill="none" stroke="#97999c" stroke-width="1.80" opacity=".8"/><path d="M323.8,666.7 L323.9,667.8 L324.0,669.0 L324.2,670.1 L324.3,671.3 L324.5,672.5 L324.7,673.7 L324.7,675.0 L324.6,676.2 L324.4,677.4 L324.0,678.5 L323.5,679.6 L322.8,680.6 L322.0,681.6 L321.1,682.4 L320.1,683.2 L319.1,683.9 L318.1,684.6 L317.2,685.3 L316.3,686.0 L315.5,686.8 L314.7,687.6 L314.0,688.5 L313.3,689.4 L312.6,690.4 L311.9,691.4 L311.1,692.4 L310.3,693.3 L309.3,694.1 L308.3,694.8 L307.2,695.3 L306.1,695.7 L304.9,695.9 L303.7,696.0 L302.4,696.0 L301.2,695.8 L300.0,695.6 L298.8,695.5 L297.7,695.3 L296.5,695.2 L295.4,695.1 L294.3,695.2 L293.1,695.3 L292.0,695.5 L290.8,695.6 L289.6,695.8 L288.4,696.0 L287.1,696.0 L285.9,695.9 L284.7,695.7 L283.6,695.3 L282.5,694.8 L281.5,694.1 L280.5,693.3 L279.7,692.4 L278.9,691.4 L278.2,690.4 L277.5,689.4 L276.8,688.5 L276.1,687.6 L275.3,686.8 L274.5,686.0 L273.6,685.3 L272.7,684.6 L271.7,683.9 L270.7,683.2 L269.7,682.4 L268.8,681.6 L268.0,680.6 L267.3,679.6 L266.8,678.5 L266.4,677.4 L266.2,676.2 L266.1,675.0 L266.1,673.7 L266.3,672.5 L266.5,671.3 L266.6,670.1 L266.8,669.0 L266.9,667.8 L267.0,666.7 L266.9,665.6 L266.8,664.4 L266.6,663.3 L266.5,662.1 L266.3,660.9 L266.1,659.7 L266.1,658.4 L266.2,657.2 L266.4,656.0 L266.8,654.9 L267.3,653.8 L268.0,652.8 L268.8,651.8 L269.7,651.0 L270.7,650.2 L271.7,649.5 L272.7,648.8 L273.6,648.1 L274.5,647.4 L275.3,646.6 L276.1,645.8 L276.8,644.9 L277.5,644.0 L278.2,643.0 L278.9,642.0 L279.7,641.0 L280.5,640.1 L281.5,639.3 L282.5,638.6 L283.6,638.1 L284.7,637.7 L285.9,637.5 L287.1,637.4 L288.4,637.4 L289.6,637.6 L290.8,637.8 L292.0,637.9 L293.1,638.1 L294.3,638.2 L295.4,638.3 L296.5,638.2 L297.7,638.1 L298.8,637.9 L300.0,637.8 L301.2,637.6 L302.4,637.4 L303.7,637.4 L304.9,637.5 L306.1,637.7 L307.2,638.1 L308.3,638.6 L309.3,639.3 L310.3,640.1 L311.1,641.0 L311.9,642.0 L312.6,643.0 L313.3,644.0 L314.0,644.9 L314.7,645.8 L315.5,646.6 L316.3,647.4 L317.2,648.1 L318.1,648.8 L319.1,649.5 L320.1,650.2 L321.1,651.0 L322.0,651.8 L322.8,652.8 L323.5,653.8 L324.0,654.9 L324.4,656.0 L324.6,657.2 L324.7,658.4 L324.7,659.7 L324.5,660.9 L324.3,662.1 L324.2,663.3 L324.0,664.4 L323.9,665.6Z" fill="none" stroke="#f4f4f5" stroke-width="1.44" opacity=".85"/><text x="0" y="0" transform="translate(295.7,674.51) scale(0.837,1)" text-anchor="middle" font-family="Liberation Sans, sans-serif" font-weight="700" font-size="45.1" fill="#76787b" stroke="#76787b" stroke-width="1.35" opacity=".65">5</text><text x="0" y="0" transform="translate(295,673.71) scale(0.837,1)" text-anchor="middle" font-family="Liberation Sans, sans-serif" font-weight="700" font-size="45.1" fill="#dedfe0" stroke="#ececed" stroke-width="1.35" paint-order="stroke">5</text><text x="0" y="0" transform="translate(295,687.26) scale(.62,1)" text-anchor="middle" font-family="Liberation Sans, sans-serif" font-weight="700" font-size="12.6" fill="#d8d9da" stroke="#77797c" stroke-width=".8" paint-order="stroke">КОПІЙОК</text></g><g filter="url(#b3)"><circle cx="389.5" cy="666" r="31.5" fill="url(#gG)"/><circle cx="389.5" cy="666" r="30.8" fill="none" stroke="#b98f14" stroke-width="1.2" opacity=".85"/><path d="M415.8,666.0 L415.8,667.0 L415.9,668.1 L416.1,669.1 L416.2,670.2 L416.4,671.3 L416.5,672.5 L416.5,673.6 L416.4,674.7 L416.2,675.8 L415.8,676.9 L415.3,677.9 L414.7,678.8 L414.0,679.7 L413.2,680.5 L412.3,681.2 L411.4,681.9 L410.5,682.6 L409.7,683.2 L408.9,683.9 L408.1,684.6 L407.4,685.4 L406.7,686.2 L406.1,687.0 L405.4,687.9 L404.7,688.8 L404.0,689.7 L403.2,690.5 L402.3,691.2 L401.4,691.8 L400.4,692.3 L399.3,692.7 L398.2,692.9 L397.1,693.0 L396.0,693.0 L394.8,692.9 L393.7,692.7 L392.6,692.6 L391.6,692.4 L390.5,692.3 L389.5,692.3 L388.5,692.3 L387.4,692.4 L386.4,692.6 L385.3,692.7 L384.2,692.9 L383.0,693.0 L381.9,693.0 L380.8,692.9 L379.7,692.7 L378.6,692.3 L377.6,691.8 L376.7,691.2 L375.8,690.5 L375.0,689.7 L374.3,688.8 L373.6,687.9 L372.9,687.0 L372.3,686.2 L371.6,685.4 L370.9,684.6 L370.1,683.9 L369.3,683.2 L368.5,682.6 L367.6,681.9 L366.7,681.2 L365.8,680.5 L365.0,679.7 L364.3,678.8 L363.7,677.9 L363.2,676.9 L362.8,675.8 L362.6,674.7 L362.5,673.6 L362.5,672.5 L362.6,671.3 L362.8,670.2 L362.9,669.1 L363.1,668.1 L363.2,667.0 L363.2,666.0 L363.2,665.0 L363.1,663.9 L362.9,662.9 L362.8,661.8 L362.6,660.7 L362.5,659.5 L362.5,658.4 L362.6,657.3 L362.8,656.2 L363.2,655.1 L363.7,654.1 L364.3,653.2 L365.0,652.3 L365.8,651.5 L366.7,650.8 L367.6,650.1 L368.5,649.4 L369.3,648.8 L370.1,648.1 L370.9,647.4 L371.6,646.6 L372.3,645.8 L372.9,645.0 L373.6,644.1 L374.3,643.2 L375.0,642.3 L375.8,641.5 L376.7,640.8 L377.6,640.2 L378.6,639.7 L379.7,639.3 L380.8,639.1 L381.9,639.0 L383.0,639.0 L384.2,639.1 L385.3,639.3 L386.4,639.4 L387.4,639.6 L388.5,639.7 L389.5,639.7 L390.5,639.7 L391.6,639.6 L392.6,639.4 L393.7,639.3 L394.8,639.1 L396.0,639.0 L397.1,639.0 L398.2,639.1 L399.3,639.3 L400.4,639.7 L401.4,640.2 L402.3,640.8 L403.2,641.5 L404.0,642.3 L404.7,643.2 L405.4,644.1 L406.1,645.0 L406.7,645.8 L407.4,646.6 L408.1,647.4 L408.9,648.1 L409.7,648.8 L410.5,649.4 L411.4,650.1 L412.3,650.8 L413.2,651.5 L414.0,652.3 L414.7,653.2 L415.3,654.1 L415.8,655.1 L416.2,656.2 L416.4,657.3 L416.5,658.4 L416.5,659.5 L416.4,660.7 L416.2,661.8 L416.1,662.9 L415.9,663.9 L415.8,665.0Z" fill="none" stroke="#c39a1a" stroke-width="1.58" opacity=".8"/><path d="M414.8,666.5 L414.8,667.5 L414.9,668.5 L415.1,669.5 L415.2,670.5 L415.4,671.6 L415.5,672.6 L415.5,673.7 L415.5,674.8 L415.3,675.9 L414.9,676.9 L414.5,677.8 L413.8,678.7 L413.1,679.5 L412.3,680.3 L411.5,680.9 L410.6,681.6 L409.8,682.2 L409.0,682.8 L408.2,683.4 L407.5,684.1 L406.8,684.8 L406.2,685.6 L405.6,686.4 L405.0,687.2 L404.3,688.1 L403.7,688.9 L402.9,689.7 L402.1,690.4 L401.2,691.1 L400.3,691.5 L399.3,691.9 L398.2,692.1 L397.1,692.1 L396.0,692.1 L395.0,692.0 L393.9,691.8 L392.9,691.7 L391.9,691.5 L390.9,691.4 L389.9,691.4 L388.9,691.4 L387.9,691.5 L386.9,691.7 L385.9,691.8 L384.8,692.0 L383.8,692.1 L382.7,692.1 L381.6,692.1 L380.5,691.9 L379.5,691.5 L378.6,691.1 L377.7,690.4 L376.9,689.7 L376.1,688.9 L375.5,688.1 L374.8,687.2 L374.2,686.4 L373.6,685.6 L373.0,684.8 L372.3,684.1 L371.6,683.4 L370.8,682.8 L370.0,682.2 L369.2,681.6 L368.3,680.9 L367.5,680.3 L366.7,679.5 L366.0,678.7 L365.3,677.8 L364.9,676.9 L364.5,675.9 L364.3,674.8 L364.3,673.7 L364.3,672.6 L364.4,671.6 L364.6,670.5 L364.7,669.5 L364.9,668.5 L365.0,667.5 L365.0,666.5 L365.0,665.5 L364.9,664.5 L364.7,663.5 L364.6,662.5 L364.4,661.4 L364.3,660.4 L364.3,659.3 L364.3,658.2 L364.5,657.1 L364.9,656.1 L365.3,655.2 L366.0,654.3 L366.7,653.5 L367.5,652.7 L368.3,652.1 L369.2,651.4 L370.0,650.8 L370.8,650.2 L371.6,649.6 L372.3,648.9 L373.0,648.2 L373.6,647.4 L374.2,646.6 L374.8,645.8 L375.5,644.9 L376.1,644.1 L376.9,643.3 L377.7,642.6 L378.6,641.9 L379.5,641.5 L380.5,641.1 L381.6,640.9 L382.7,640.9 L383.8,640.9 L384.8,641.0 L385.9,641.2 L386.9,641.3 L387.9,641.5 L388.9,641.6 L389.9,641.6 L390.9,641.6 L391.9,641.5 L392.9,641.3 L393.9,641.2 L395.0,641.0 L396.0,640.9 L397.1,640.9 L398.2,640.9 L399.3,641.1 L400.3,641.5 L401.2,641.9 L402.1,642.6 L402.9,643.3 L403.7,644.1 L404.3,644.9 L405.0,645.8 L405.6,646.6 L406.2,647.4 L406.8,648.2 L407.5,648.9 L408.2,649.6 L409.0,650.2 L409.8,650.8 L410.6,651.4 L411.5,652.1 L412.3,652.7 L413.1,653.5 L413.8,654.3 L414.5,655.2 L414.9,656.1 L415.3,657.1 L415.5,658.2 L415.5,659.3 L415.5,660.4 L415.4,661.4 L415.2,662.5 L415.1,663.5 L414.9,664.5 L414.8,665.5Z" fill="none" stroke="#f8e680" stroke-width="1.26" opacity=".75"/><text x="0" y="0" transform="translate(390.1,675.475) scale(0.849,1)" text-anchor="middle" font-family="Liberation Sans, sans-serif" font-weight="700" font-size="37.7" fill="#8a6806" stroke="#8a6806" stroke-width="1.51" opacity=".65">25</text><text x="0" y="0" transform="translate(389.5,674.775) scale(0.849,1)" text-anchor="middle" font-family="Liberation Sans, sans-serif" font-weight="700" font-size="37.7" fill="#f0d242" stroke="#a8830f" stroke-width="1.51" paint-order="stroke">25</text><text x="0" y="0" transform="translate(389.5,684.4275) scale(.62,1)" text-anchor="middle" font-family="Liberation Sans, sans-serif" font-weight="700" font-size="11.0" fill="#e8c432" stroke="#a48010" stroke-width=".8" paint-order="stroke">КОПІЙОК</text></g><g filter="url(#b3)"><circle cx="487.5" cy="666.2" r="39.5" fill="url(#gG2)"/><circle cx="487.5" cy="666.2" r="38.7" fill="none" stroke="#a27a10" stroke-width="1.5" opacity=".85"/><circle cx="487.5" cy="666.2" r="36.8" fill="none" stroke="#f0d874" stroke-width=".9" opacity=".7"/><path d="M478.8,678.1 C463.8,684.4 449.2,670.9 453.5,658.3 C457.5,649.6 470.1,652.0 470.9,663.0" fill="none" stroke="#8a680c" stroke-width="1.5" opacity=".8"/><path d="M478.8,678.1 C463.8,684.4 449.2,670.9 453.5,658.3 C457.5,649.6 470.1,652.0 470.9,663.0" fill="none" stroke="#f4e084" stroke-width=".6" opacity=".85" transform="translate(.5,.6)"/><path d="M476.8,668.6 C480.4,654.4 482.0,640.1 470.1,635.4 C459.9,633.8 458.3,645.7 465.4,648.0" fill="none" stroke="#8a680c" stroke-width="1.5" opacity=".8"/><path d="M476.8,668.6 C480.4,654.4 482.0,640.1 470.1,635.4 C459.9,633.8 458.3,645.7 465.4,648.0" fill="none" stroke="#f4e084" stroke-width=".6" opacity=".85" transform="translate(.5,.6)"/><path d="M467.8,680.4 C475.6,678.1 476.4,670.2 471.7,667.0" fill="none" stroke="#8a680c" stroke-width="1.5" opacity=".8"/><path d="M467.8,680.4 C475.6,678.1 476.4,670.2 471.7,667.0" fill="none" stroke="#f4e084" stroke-width=".6" opacity=".85" transform="translate(.5,.6)"/><path d="M463.0,644.1 Q454.3,641.7 452.7,649.6 Q459.9,650.4 463.0,644.1Z" fill="#e8ca58" stroke="#8a680c" stroke-width=".7"/><circle cx="468.6" cy="644.1" r="1.25" fill="#f5e48c" stroke="#86640a" stroke-width=".6"/><circle cx="471.7" cy="644.1" r="1.25" fill="#f5e48c" stroke="#86640a" stroke-width=".6"/><circle cx="474.8" cy="644.1" r="1.25" fill="#f5e48c" stroke="#86640a" stroke-width=".6"/><circle cx="470.1" cy="647.1" r="1.25" fill="#f5e48c" stroke="#86640a" stroke-width=".6"/><circle cx="473.2" cy="647.1" r="1.25" fill="#f5e48c" stroke="#86640a" stroke-width=".6"/><circle cx="471.7" cy="650.1" r="1.25" fill="#f5e48c" stroke="#86640a" stroke-width=".6"/><circle cx="456.8" cy="662.2" r="1.25" fill="#f5e48c" stroke="#86640a" stroke-width=".6"/><circle cx="459.9" cy="662.2" r="1.25" fill="#f5e48c" stroke="#86640a" stroke-width=".6"/><circle cx="463.0" cy="662.2" r="1.25" fill="#f5e48c" stroke="#86640a" stroke-width=".6"/><circle cx="466.1" cy="662.2" r="1.25" fill="#f5e48c" stroke="#86640a" stroke-width=".6"/><circle cx="458.3" cy="665.2" r="1.25" fill="#f5e48c" stroke="#86640a" stroke-width=".6"/><circle cx="461.4" cy="665.2" r="1.25" fill="#f5e48c" stroke="#86640a" stroke-width=".6"/><circle cx="464.5" cy="665.2" r="1.25" fill="#f5e48c" stroke="#86640a" stroke-width=".6"/><circle cx="459.9" cy="668.2" r="1.25" fill="#f5e48c" stroke="#86640a" stroke-width=".6"/><circle cx="463.0" cy="668.2" r="1.25" fill="#f5e48c" stroke="#86640a" stroke-width=".6"/><circle cx="461.4" cy="671.2" r="1.25" fill="#f5e48c" stroke="#86640a" stroke-width=".6"/><path d="M496.2,678.1 C511.2,684.4 525.8,670.9 521.5,658.3 C517.5,649.6 504.9,652.0 504.1,663.0" fill="none" stroke="#8a680c" stroke-width="1.5" opacity=".8"/><path d="M496.2,678.1 C511.2,684.4 525.8,670.9 521.5,658.3 C517.5,649.6 504.9,652.0 504.1,663.0" fill="none" stroke="#f4e084" stroke-width=".6" opacity=".85" transform="translate(.5,.6)"/><path d="M498.2,668.6 C494.6,654.4 493.0,640.1 504.9,635.4 C515.1,633.8 516.7,645.7 509.6,648.0" fill="none" stroke="#8a680c" stroke-width="1.5" opacity=".8"/><path d="M498.2,668.6 C494.6,654.4 493.0,640.1 504.9,635.4 C515.1,633.8 516.7,645.7 509.6,648.0" fill="none" stroke="#f4e084" stroke-width=".6" opacity=".85" transform="translate(.5,.6)"/><path d="M507.2,680.4 C499.4,678.1 498.6,670.2 503.3,667.0" fill="none" stroke="#8a680c" stroke-width="1.5" opacity=".8"/><path d="M507.2,680.4 C499.4,678.1 498.6,670.2 503.3,667.0" fill="none" stroke="#f4e084" stroke-width=".6" opacity=".85" transform="translate(.5,.6)"/><path d="M512.0,644.1 Q520.7,641.7 522.3,649.6 Q515.1,650.4 512.0,644.1Z" fill="#e8ca58" stroke="#8a680c" stroke-width=".7"/><circle cx="500.2" cy="644.1" r="1.25" fill="#f5e48c" stroke="#86640a" stroke-width=".6"/><circle cx="503.3" cy="644.1" r="1.25" fill="#f5e48c" stroke="#86640a" stroke-width=".6"/><circle cx="506.4" cy="644.1" r="1.25" fill="#f5e48c" stroke="#86640a" stroke-width=".6"/><circle cx="501.8" cy="647.1" r="1.25" fill="#f5e48c" stroke="#86640a" stroke-width=".6"/><circle cx="504.9" cy="647.1" r="1.25" fill="#f5e48c" stroke="#86640a" stroke-width=".6"/><circle cx="503.3" cy="650.1" r="1.25" fill="#f5e48c" stroke="#86640a" stroke-width=".6"/><circle cx="508.9" cy="662.2" r="1.25" fill="#f5e48c" stroke="#86640a" stroke-width=".6"/><circle cx="512.0" cy="662.2" r="1.25" fill="#f5e48c" stroke="#86640a" stroke-width=".6"/><circle cx="515.1" cy="662.2" r="1.25" fill="#f5e48c" stroke="#86640a" stroke-width=".6"/><circle cx="518.2" cy="662.2" r="1.25" fill="#f5e48c" stroke="#86640a" stroke-width=".6"/><circle cx="510.5" cy="665.2" r="1.25" fill="#f5e48c" stroke="#86640a" stroke-width=".6"/><circle cx="513.6" cy="665.2" r="1.25" fill="#f5e48c" stroke="#86640a" stroke-width=".6"/><circle cx="516.7" cy="665.2" r="1.25" fill="#f5e48c" stroke="#86640a" stroke-width=".6"/><circle cx="512.0" cy="668.2" r="1.25" fill="#f5e48c" stroke="#86640a" stroke-width=".6"/><circle cx="515.1" cy="668.2" r="1.25" fill="#f5e48c" stroke="#86640a" stroke-width=".6"/><circle cx="513.6" cy="671.2" r="1.25" fill="#f5e48c" stroke="#86640a" stroke-width=".6"/><text x="0" y="0" transform="translate(489.1,680.894) scale(.56,1)" text-anchor="middle" font-family="Liberation Serif, serif" font-weight="700" font-size="70" fill="#ecd05c" stroke="#86640a" stroke-width="1.6" paint-order="stroke">1</text><text x="0" y="0" transform="translate(487.5,694.0475) scale(1.0,1)" text-anchor="middle" font-family="Liberation Sans, sans-serif" font-weight="700" font-size="11.6" fill="#e6c858" stroke="#7c5c08" stroke-width="1.1" paint-order="stroke" letter-spacing=".7">ГРИВНЯ</text></g><g fill="none" stroke-width="1.3"><path d="M74.8,449 V467" stroke="#a0949d" stroke-dasharray="6.5 4.5"/><path d="M130.4,548 H391" stroke="#c6acbe" stroke-dasharray="7.3 4.8"/><path d="M129.8,552.5 V572" stroke="#a0949d" stroke-dasharray="6.3 6.2"/><path d="M390,554.4 V572" stroke="#a0949d" stroke-dasharray="6.2 6.3"/><path d="M487.5,553 V572" stroke="#a0949d" stroke-dasharray="5.8 6.2"/><path d="M851.2,548 H1149" stroke="#c6acbe" stroke-dasharray="7.3 4.9"/><path d="M851.3,552.5 V572" stroke="#a0949d" stroke-dasharray="6.3 6.2"/><path d="M1154.6,545.6 V566" stroke="#a0949d" stroke-dasharray="7.3 5.8"/></g><g transform="translate(633.4,341.6)" filter="url(#b3)"><rect x="0" y="0" width="66.3" height="44.7" fill="#fbfbfa"/><defs><linearGradient id="n20a" x1="0" y1="0" x2="1" y2="0"><stop offset="0" stop-color="#dde8c6"/><stop offset=".35" stop-color="#dcdaee"/><stop offset="1" stop-color="#cde4cf"/></linearGradient></defs><rect x="23.3" y="0" width="42.4" height="44.7" fill="url(#n20a)"/><path d="M38,24 L48,17.5 L56,17 L65.7,20 L65.7,32 L38,32Z" fill="#a3bfd3"/><path d="M23.3,30 L40,24.5 L52,25.5 L65.7,34 L65.7,42.8 L23.3,42.8Z" fill="#b9dca3"/><path d="M23.3,42.6 H65.7 V44.7 H23.3Z" fill="#c9d3e2"/><path d="M55,6.6 l1.3,2.5 2.8,-.2 -1.5,2.4 1.5,2.4 -2.8,-.2 -1.3,2.5 -1.3,-2.5 -2.8,.2 1.5,-2.4 -1.5,-2.4 2.8,.2Z" fill="#cf6a7c"/><rect x="42.3" y="3.2" width="1.5" height="2.6" rx=".5" fill="#4a5fa0"/><rect x="1" y="7" width=".8" height="2.6" fill="#999"/><path d="M15,42.2 L15,37.5 Q15,35.0 17.9,33.5 L20.4,31.9 L20.4,26 C20.4,23 18.0,22 18.0,18 L18.0,10.7 C18.0,4.2 22.8,2.2 30,2.2 C37.2,2.2 42.0,4.2 42.0,10.7 L42.0,18 C42.0,22 38.879999999999995,23 38.879999999999995,26 L38.879999999999995,31.9 Q39,33.5 42.5,37.5 L44,42.2 L48,42.2 L48,41.400000000000006 L44,41.400000000000006 Z" fill="#8e9478" stroke="#8e9478" stroke-width=".5" stroke-linejoin="round"/><text x="0" y="0" transform="translate(1.3,42.2) scale(0.95,1)" font-family="Liberation Sans, sans-serif" font-weight="700" font-size="10.6"><tspan fill="#4f9a63">2</tspan><tspan fill="#8a857b">0</tspan></text></g><g transform="translate(736.1,341.6)" filter="url(#b3)"><rect x="0" y="0" width="66.3" height="44.7" fill="#eeebf5"/><rect x="22.7" y="0" width="43.2" height="44.7" fill="#b9aed6"/><rect x="24" y="1.6" width="40.8" height="18" fill="#ddb3d6"/><rect x="42.8" y="18.8" width="21.8" height="19.4" fill="#8bcdd6"/><rect x="42.8" y="38.2" width="21.8" height="4.4" fill="#cfc4e4"/><rect x="52" y="39" width="4.5" height="2.6" fill="#c3a6dc"/><path d="M51,11 l3,-4 4.5,1 3.5,-1 -1,5.5 -3.5,-1.2 -2,1.2Z" fill="#8a6a3a"/><rect x="46.6" y="2.6" width="1.7" height="3" rx=".6" fill="#5a4a9a"/><path d="M14.8,42.3 L14.8,36 Q14.8,33.5 18.9,32 L21.4,30.4 L21.4,24 C21.4,21 19.0,20 19.0,16 L19.0,11.5 C19.0,5 23.8,3 31,3 C38.2,3 43.0,5 43.0,11.5 L43.0,16 C43.0,20 39.879999999999995,21 39.879999999999995,24 L39.879999999999995,30.4 Q42,32 45.5,36 L47,42.3 Z" fill="#98797b" stroke="#98797b" stroke-width=".5" stroke-linejoin="round"/><text x="0" y="0" transform="translate(1.2,42.2) scale(0.98,1)" font-family="Liberation Sans, sans-serif" font-weight="700" font-size="10.6"><tspan fill="#c05a5a">5</tspan><tspan fill="#3f4a94">0</tspan></text></g><g transform="translate(838.8,341.6)" filter="url(#b3)"><rect x="0" y="0" width="66.3" height="44.7" fill="#fdf8ea"/><rect x="41.2" y="0.6" width="24.5" height="8.6" fill="#e6e6f4"/><rect x="41.2" y="9.4" width="21.8" height="28" fill="#f0c5b1"/><rect x="41.2" y="38" width="24.5" height="5.4" fill="#ebebf6"/><path d="M49.5,13 q1.5,4 1,8 q3,-4 7,-1.5 q2,2 -1,4.5 q-1,3.5 -5,3.5 q-4,-.5 -4,-5 q.5,-5 2,-9.5Z" fill="#9a6a32"/><rect x="43" y="2.6" width="1.7" height="2.8" rx=".6" fill="#6a78b0"/><circle cx="2.6" cy="5" r="1.6" fill="#f2e2c0"/><circle cx="63.3" cy="41.3" r="1.8" fill="#f0dca0"/><path d="M18.5,41.3 L18.5,37.5 Q18.5,35.0 18.299999999999997,33.5 L20.799999999999997,31.9 L20.799999999999997,26 C20.799999999999997,23 18.25,22 18.25,18 L18.25,10.9 C18.25,4.4 23.35,2.4 31,2.4 C38.65,2.4 43.75,4.4 43.75,10.9 L43.75,18 C43.75,22 40.435,23 40.435,26 L40.435,31.9 Q37,33.5 40.5,37.5 L42,41.3 L48.5,41.3 L48.5,40.5 L42,40.5 Z" fill="#9a8a68" stroke="#9a8a68" stroke-width=".5" stroke-linejoin="round"/><text x="0" y="0" transform="translate(1,41.4) scale(0.93,1)" font-family="Liberation Sans, sans-serif" font-weight="700" font-size="10.4"><tspan fill="#c85a68">100</tspan></text></g><g transform="translate(941.4,341.6)" filter="url(#b3)"><defs><linearGradient id="n200a" x1="0" y1="0" x2="1" y2="1"><stop offset="0" stop-color="#f0c0cf"/><stop offset=".55" stop-color="#f3c6c6"/><stop offset="1" stop-color="#f5d6a4"/></linearGradient></defs><rect x="0" y="0" width="66.3" height="44.7" fill="#f2e5ec"/><rect x="27" y="0" width="39.3" height="44.7" fill="url(#n200a)"/><path d="M46,2 q5,5 8,9 q4,4 11,8 l0,4 q-8,-3 -12,-8 q-3,-5 -8,-11Z" fill="#b9d5e5"/><circle cx="47.5" cy="2.6" r="1.3" fill="#c0486a"/><path d="M48.5,29 q1,-7 6,-7.5 q5,.5 6,6.5 l2.8,1.2 q-2,3 -8,3.2 q-5,-.3 -6.8,-3.4Z" fill="#8a4a4c"/><text x="0" y="0" transform="translate(0.6,8.6) scale(0.95,1)" font-family="Liberation Sans, sans-serif" font-weight="700" font-size="5.2"><tspan fill="#a0a6b8">200</tspan></text><rect x="0.4" y="19" width="1.2" height="5" fill="#e08aa0"/><rect x="0.8" y="28" width=".9" height="3" fill="#c0b0c0"/><path d="M23.5,42.2 L23.5,36 Q23.5,33.5 23.1,32 L25.6,30.4 L25.6,24 C25.6,21 23.25,20 23.25,16 L23.25,10.7 C23.25,4.2 27.95,2.2 35,2.2 C42.05,2.2 46.75,4.2 46.75,10.7 L46.75,16 C46.75,20 43.695,21 43.695,24 L43.695,30.4 Q46.5,32 50.0,36 L51.5,42.2 Z" fill="#8385b1" stroke="#8385b1" stroke-width=".5" stroke-linejoin="round"/><text x="0" y="0" transform="translate(4.6,42.2) scale(0.99,1)" font-family="Liberation Sans, sans-serif" font-weight="700" font-size="10.6"><tspan fill="#3a4a9c">2</tspan><tspan fill="#d05a6c">0</tspan><tspan fill="#3a4a9c">0</tspan></text></g><g transform="translate(1044,341.6)" filter="url(#b3)"><rect x="0" y="0" width="66.3" height="44.7" fill="#e6f0fa"/><rect x="28" y="0" width="38.3" height="44.7" fill="#e6e7f0"/><rect x="28" y="0" width="8" height="2.4" fill="#f2d8c8"/><rect x="28" y="42.4" width="8" height="2.3" fill="#f2d4c0"/><rect x="42" y="42.4" width="10" height="2.3" fill="#d8d4ee"/><path d="M54.5,8.4 L65,7.6 L62.6,16 L52.2,16.8Z" fill="#5cb050"/><rect x="50" y="21" width="14.6" height="17.5" fill="#dad6ec"/><rect x="55.3" y="2.8" width="1.5" height="2.8" rx=".6" fill="#5a68a8"/><text x="0" y="0" transform="translate(0.2,9.6) scale(0.95,1)" font-family="Liberation Sans, sans-serif" font-weight="700" font-size="5.4"><tspan fill="#a0a6b8">00</tspan></text><rect x="0.4" y="20" width="1" height="4.5" fill="#b0b8c8"/><rect x="0.7" y="29" width=".9" height="3" fill="#b0b8c8"/><path d="M21.8,41 L21.8,37 Q21.8,34.5 22.1,33 L24.6,31.4 L24.6,25 C24.6,22 22.0,21 22.0,17 L22.0,10.7 C22.0,4.2 27.2,2.2 35,2.2 C42.8,2.2 48.0,4.2 48.0,10.7 L48.0,17 C48.0,21 44.62,22 44.62,25 L44.62,31.4 Q45,33 48.5,37 L50,41 L56,41 L56,40.2 L50,40.2 Z" fill="#8e96b8" stroke="#8e96b8" stroke-width=".5" stroke-linejoin="round"/><text x="0" y="0" transform="translate(3.6,41) scale(0.98,1)" font-family="Liberation Sans, sans-serif" font-weight="700" font-size="10.6"><tspan fill="#35497c">500</tspan></text></g><g transform="translate(1146.6,341.6)" filter="url(#b3)"><defs><linearGradient id="n1000a" x1="0" y1="0" x2=".5" y2="1"><stop offset="0" stop-color="#ece8d0"/><stop offset=".6" stop-color="#cfe3d9"/><stop offset="1" stop-color="#f4dcc0"/></linearGradient></defs><rect x="0" y="0" width="66.3" height="44.7" fill="#e4f0fa"/><rect x="27.8" y="0" width="38.4" height="44.7" fill="url(#n1000a)"/><path d="M52,0 H66.2 V9 L60,12 L55,7Z" fill="#b4d8e8"/><path d="M61.2,6.8 l1.6,3 3.4,-.6 -1.4,3.4 1.6,3.2 -3.4,-.2 -1.8,3 -1.6,-3 -3.4,.2 1.8,-3 -1.6,-3 3.4,.2Z" fill="#6a7a3a"/><circle cx="61.2" cy="13.2" r="1.7" fill="#f4f0c8"/><rect x="50" y="2.4" width="1.5" height="2.6" rx=".6" fill="#5a7890"/><text x="0" y="0" transform="translate(1.4,7.4) scale(0.95,1)" font-family="Liberation Sans, sans-serif" font-weight="700" font-size="5"><tspan fill="#8aa4bc">000</tspan></text><rect x="1.2" y="19" width="1.6" height="5" rx=".8" fill="#c0c4d0"/><path d="M26.2,43.7 L26.2,33 L27.6,24 C25.4,17 26,8 30.5,4.6 C35,1.6 41,1.8 45,5 C49.5,9 49.4,17 47.6,23 L46.4,27 C46.4,32 50,34.2 55.6,36.4 L53.4,43.7Z" fill="#94726e"/><text x="0" y="0" transform="translate(2.4,41.9) scale(0.97,1)" font-family="Liberation Sans, sans-serif" font-weight="700" font-size="9.8"><tspan fill="#5a3a6a">1000</tspan></text></g><g transform="translate(818.6,636.2) scale(1,1.018)" filter="url(#b3)"><rect x="0" y="0" width="66.3" height="44.7" fill="#f4f4f2"/><rect x="0" y="0" width="7.6" height="12" fill="#e6f0fa"/><rect x="0" y="33" width="7.6" height="11.7" fill="#dcecf8"/><rect x="0" y="12" width="7.6" height="21" fill="#fcf4dc"/><rect x="7.6" y="0" width="5" height="44.7" fill="#c4dcf2"/><rect x="10" y="0" width="2.6" height="44.7" fill="#a9cdeb"/><rect x="11.4" y="0" width="1.1" height="44.7" fill="#7fadd6"/><rect x="12.6" y="0" width="15" height="15" fill="#b6def5"/><rect x="12.6" y="15" width="17" height="18.4" fill="#f8ebb6"/><rect x="12.6" y="33.4" width="15" height="12.3" fill="#b1ddf8"/><rect x="27.4" y="0" width="37.6" height="44.7" fill="#f8d14c"/><rect x="13.6" y="3.4" width="10.2" height="10.4" fill="#2b99a9"/><path d="M16,5.4 h5.4 v4.6 q-1,2.2 -2.7,2.6 q-1.7,-.4 -2.7,-2.6Z" fill="#a8ecd2"/><rect x="58" y="35" width="5" height="8" fill="#f4c63c"/><ellipse cx="6.6" cy="38" rx="1.2" ry="2.2" fill="#ecd9a0"/><path d="M23.6,42 C24,39 26,37 30.5,36 L33.4,33.6 L32,28 L30.2,22 L29.4,16.5 L28.6,15 L29.2,12.4 C31,8 35,3 41.5,1 C47,0.4 52,3.6 54,9 C56,14 55.6,19 54.6,23 C55.4,27 54.6,31 53.6,33.6 L55.2,36.2 L55.2,42Z" fill="#937a5e"/></g><g transform="translate(919.6,636.2) scale(1,1.018)" filter="url(#b3)"><rect x="0" y="0" width="66.3" height="44.7" fill="#efbfb0"/><rect x="0" y="0" width="8.4" height="44.7" fill="#fceee4"/><rect x="8.4" y="0" width="57" height="2.4" fill="#e2b4a4"/><rect x="8.4" y="14.4" width="9.6" height="20" fill="#e9e8b2"/><rect x="18" y="14.6" width="15" height="19.6" fill="#c1bdd9"/><rect x="0" y="34.2" width="65" height="9.2" fill="#dc8c7c"/><rect x="8.4" y="43.2" width="57" height="1.5" fill="#efc0b0"/><rect x="13.6" y="3.2" width="10" height="9.8" fill="#8a5a3a"/><rect x="15" y="4.4" width="7.2" height="7.4" fill="#a9b2aa"/><circle cx="18.6" cy="8.6" r="1.4" fill="#5a5a4a"/><rect x="55.4" y="12" width="6.4" height="22" fill="#bab2c2"/><rect x="55.6" y="20" width="6" height="7" fill="#b05262"/><rect x="55.4" y="3.4" width="6.4" height="6" fill="#e8a090"/><rect x="55.6" y="35.4" width="6" height="6.6" fill="#c06a58"/><rect x="2" y="36" width="2" height="5" fill="#b87868"/><rect x="7" y="36" width="2.4" height="5" fill="#c88070"/><rect x="11.4" y="35.6" width="3" height="6" fill="#c87c6c"/><path d="M23.8,42.6 L23.8,38.4 C24.4,35.6 28,34.6 31.4,33.4 L32.2,28 L30.4,22 L30,14 L30.8,4 L53.4,3.8 L54,16 L53.6,24 L55.4,33 L55.4,42.6Z" fill="#a86848"/><path d="M49.8,23.4 L53.6,20.6 L54.6,31 L50.6,30Z" fill="#f0e09a"/></g><g transform="translate(1021,636.2) scale(1,1.018)" filter="url(#b3)"><rect x="0" y="0" width="66.3" height="44.7" fill="#b9ddf1"/><rect x="0.6" y="1.4" width="11.6" height="10.6" fill="#c8dce8"/><rect x="0" y="12.6" width="12.4" height="21" fill="#fbeaf2"/><rect x="0" y="12.6" width="5" height="21" fill="#fdf6f8"/><rect x="13" y="3" width="42.8" height="39.8" fill="#5c8aa8"/><rect x="13" y="14" width="21" height="20" fill="#8fcdd5"/><rect x="13.4" y="3.6" width="9.6" height="9.6" fill="#a3b7a0"/><rect x="15.6" y="5" width="5" height="6.4" rx="1" fill="#a8b47c"/><rect x="13" y="34" width="42.8" height="8.8" fill="#6393af"/><rect x="10.4" y="35.6" width="3.2" height="6" fill="#4a88a0"/><rect x="6" y="36.4" width="2" height="4.6" fill="#a8ccd8"/><rect x="56" y="13" width="7" height="8" fill="#c9c9a2"/><rect x="56" y="21" width="7" height="5.6" fill="#5c8292"/><rect x="56" y="27" width="7" height="7" fill="#c1cdaa"/><rect x="56" y="35" width="7" height="7.8" fill="#3a8999"/><text x="0" y="0" transform="translate(57.4,4.6) rotate(90)" font-family="Liberation Sans, sans-serif" font-weight="700" font-size="6.4" fill="#4a80b0">5</text><text x="0" y="0" transform="translate(57.4,36.4) rotate(90)" font-family="Liberation Sans, sans-serif" font-weight="700" font-size="6.4" fill="#d8f0f4">5</text><path d="M26,42.6 C26.4,36 29,32.4 33.4,30 L33,26 L30.6,21.4 L31.6,18 L29.6,14.6 L30,11.4 L25.6,11.4 L25.6,9.8 L30.4,9.6 L31,3.4 L55.4,3.4 L55.4,42.6Z" fill="#5a86a2"/><path d="M51.6,26 L55.6,24.4 L55.6,27.2Z" fill="#e8f2f8"/></g><g transform="translate(1121.5,636.2) scale(1,1.018)" filter="url(#b3)"><rect x="0" y="0" width="66.3" height="44.7" fill="#f0787f"/><rect x="0" y="0" width="66" height="12.6" fill="#ef828a"/><rect x="1.0" y="2.4" width=".9" height="9.6" fill="#e8959c"/><rect x="2.9" y="2.4" width=".9" height="9.6" fill="#e8959c"/><rect x="4.8" y="2.4" width=".9" height="9.6" fill="#e8959c"/><rect x="6.7" y="2.4" width=".9" height="9.6" fill="#e8959c"/><rect x="8.6" y="2.4" width=".9" height="9.6" fill="#e8959c"/><rect x="10.5" y="2.4" width=".9" height="9.6" fill="#e8959c"/><rect x="12.4" y="2.4" width=".9" height="9.6" fill="#e8959c"/><rect x="14.3" y="2.4" width=".9" height="9.6" fill="#e8959c"/><rect x="16.2" y="2.4" width=".9" height="9.6" fill="#e8959c"/><rect x="18.1" y="2.4" width=".9" height="9.6" fill="#e8959c"/><rect x="20.0" y="2.4" width=".9" height="9.6" fill="#e8959c"/><rect x="21.9" y="2.4" width=".9" height="9.6" fill="#e8959c"/><rect x="0" y="12.6" width="7.4" height="21.4" fill="#f9f1f1"/><rect x="7.4" y="12.6" width="10.2" height="21.4" fill="#a9bde9"/><rect x="17.6" y="12.6" width="17" height="21.4" fill="#d1a1d1"/><circle cx="18.2" cy="8" r="4.6" fill="#f4d8a2"/><circle cx="18.2" cy="8" r="3.1" fill="#a89052"/><rect x="0.6" y="36" width="1.2" height="5.4" rx=".6" fill="#7a3040"/><rect x="6" y="36.6" width="2" height="5" fill="#d85a68"/><rect x="11.6" y="36" width="3" height="6" fill="#e0626e"/><rect x="55.6" y="12.6" width="7.6" height="6.6" fill="#e9d1b1"/><rect x="55.6" y="26" width="7.6" height="6.4" fill="#d9c9a1"/><text x="0" y="0" transform="translate(57.2,34.8) rotate(90) scale(.9,1)" font-family="Liberation Sans, sans-serif" font-weight="700" font-size="6.4" fill="#fde8ea">10</text><path d="M51.4,24.6 L56.6,23 L56.6,32 L52,31Z" fill="#a9c5e9"/><path d="M24.6,42.4 C25,39.4 28,37.6 32.6,35.6 L35.4,33 L35.2,28.6 L33.4,26.6 L34,23 L32.6,18 C32,12 33.6,7.4 37.4,5 C42,2.4 48.6,2.4 52.4,6 C56,10 55.6,16.4 53.6,21.4 C52.4,24.6 51.4,26.4 52,29 C52.6,32 54.6,33.6 55.6,36 L55.6,42.4Z" fill="#8e5c54"/></g><path d="M14.4,876.4 L17.75,864.7 L25.1,864.7 L29.1,876.4 L25.1,888.3 L17.75,888.3 Z" fill="none" stroke="#a8f2cf" stroke-width="1.35" stroke-linejoin="miter"/><path d="M19.7,865.9 L23.8,865.9 L20.2,885.6 L16.5,876.7 Z" fill="#f2fff8"/></svg>
<div class="t" id="t0" style="left:203px;top:33.94px;font-size:33.5px;font-weight:700;color:#fbfff4;letter-spacing:0.420px;">Структура готівки в обігу</div>
<div class="t" id="t1" style="left:203px;top:75.42px;font-size:27.5px;font-weight:400;color:#f6fcee;letter-spacing:0.543px;-webkit-text-stroke:.55px #91c966;">Станом на 01.10.2025&nbsp; в обігу перебувало 890,1 млрд грн готівки</div>
<div class="t" id="t2" style="left:48.4px;top:158.87px;font-size:22.6px;font-weight:700;color:#404042;transform:scaleX(0.9869);">27,4<span class="p">%</span></div>
<div class="t" id="t3" style="left:156px;top:238.87px;font-size:22.6px;font-weight:700;color:#404042;transform:scaleX(0.9603);">9,1<span class="p">%</span></div>
<div class="t" id="t4" style="left:243px;top:260.37px;font-size:22.6px;font-weight:700;color:#404042;transform:scaleX(0.9714);">4,5<span class="p">%</span></div>
<div class="t" id="t5" style="left:326px;top:262.37px;font-size:22.6px;font-weight:700;color:#404042;transform:scaleX(0.9824);">4,0<span class="p">%</span></div>
<div class="t" id="t6" style="left:412px;top:269.37px;font-size:22.6px;font-weight:700;color:#404042;transform:scaleX(0.9714);">2,3<span class="p">%</span></div>
<div class="t" id="t7" style="left:499.5px;top:269.37px;font-size:22.6px;font-weight:700;color:#404042;transform:scaleX(0.9824);">2,2<span class="p">%</span></div>
<div class="t" id="t8" style="left:42px;top:411.16px;font-size:18.6px;font-weight:700;color:#c6a06a;letter-spacing:0.492px;">4 123,6</div>
<div class="t" id="t9" style="left:52px;top:431.79px;font-size:13.6px;font-weight:400;color:#404042;letter-spacing:0.172px;">млн шт.</div>
<div class="t" id="t10" style="left:145px;top:411.16px;font-size:18.6px;font-weight:700;color:#c6a06a;letter-spacing:0.576px;">1 371,8</div>
<div class="t" id="t11" style="left:153px;top:431.79px;font-size:13.6px;font-weight:400;color:#404042;letter-spacing:0.255px;">млн шт.</div>
<div class="t" id="t12" style="left:240.5px;top:411.16px;font-size:18.6px;font-weight:700;color:#c6a06a;letter-spacing:0.742px;">678,0</div>
<div class="t" id="t13" style="left:240.5px;top:431.79px;font-size:13.6px;font-weight:400;color:#404042;letter-spacing:0.255px;">млн шт.</div>
<div class="t" id="t14" style="left:323.75px;top:411.16px;font-size:18.6px;font-weight:700;color:#c6a06a;letter-spacing:0.555px;">610,5</div>
<div class="t" id="t15" style="left:323.5px;top:431.79px;font-size:13.6px;font-weight:400;color:#404042;letter-spacing:0.172px;">млн шт.</div>
<div class="t" id="t16" style="left:409.5px;top:411.16px;font-size:18.6px;font-weight:700;color:#c6a06a;letter-spacing:0.492px;">345,7</div>
<div class="t" id="t17" style="left:409.5px;top:431.79px;font-size:13.6px;font-weight:400;color:#404042;letter-spacing:0.172px;">млн шт.</div>
<div class="t" id="t18" style="left:496.75px;top:411.16px;font-size:18.6px;font-weight:700;color:#c6a06a;letter-spacing:0.742px;">323,5</div>
<div class="t" id="t19" style="left:496.5px;top:431.79px;font-size:13.6px;font-weight:400;color:#404042;letter-spacing:0.255px;">млн шт.</div>
<div class="t" id="t20" style="left:644.5px;top:245.12px;font-size:22.6px;font-weight:700;color:#404042;transform:scaleX(0.9603);">7,8<span class="p">%</span></div>
<div class="t" id="t21" style="left:747.5px;top:259.62px;font-size:22.6px;font-weight:700;color:#404042;transform:scaleX(0.9659);">4,5<span class="p">%</span></div>
<div class="t" id="t22" style="left:850px;top:253.12px;font-size:22.6px;font-weight:700;color:#404042;transform:scaleX(0.9769);">5,9<span class="p">%</span></div>
<div class="t" id="t23" style="left:947px;top:219.37px;font-size:22.6px;font-weight:700;color:#404042;transform:scaleX(0.9679);">12,5<span class="p">%</span></div>
<div class="t" id="t24" style="left:1048.75px;top:162.62px;font-size:22.6px;font-weight:700;color:#404042;transform:scaleX(0.9808);">26,6<span class="p">%</span></div>
<div class="t" id="t25" style="left:1152.5px;top:215.87px;font-size:22.6px;font-weight:700;color:#404042;transform:scaleX(0.9635);">17,1<span class="p">%</span></div>
<div class="t" id="t26" style="left:642px;top:411.16px;font-size:18.6px;font-weight:700;color:#4e7592;letter-spacing:0.680px;">203,0</div>
<div class="t" id="t27" style="left:642px;top:431.79px;font-size:13.6px;font-weight:400;color:#404042;letter-spacing:0.214px;">млн шт.</div>
<div class="t" id="t28" style="left:745px;top:411.16px;font-size:18.6px;font-weight:700;color:#4e7592;letter-spacing:0.621px;">116,7</div>
<div class="t" id="t29" style="left:745px;top:431.79px;font-size:13.6px;font-weight:400;color:#404042;letter-spacing:0.130px;">млн шт.</div>
<div class="t" id="t30" style="left:847.5px;top:411.16px;font-size:18.6px;font-weight:700;color:#4e7592;letter-spacing:0.555px;">154,4</div>
<div class="t" id="t31" style="left:847px;top:431.79px;font-size:13.6px;font-weight:400;color:#404042;letter-spacing:0.214px;">млн шт.</div>
<div class="t" id="t32" style="left:950px;top:411.16px;font-size:18.6px;font-weight:700;color:#4e7592;letter-spacing:0.680px;">324,4</div>
<div class="t" id="t33" style="left:950px;top:431.79px;font-size:13.6px;font-weight:400;color:#404042;letter-spacing:0.255px;">млн шт.</div>
<div class="t" id="t34" style="left:1052.5px;top:411.16px;font-size:18.6px;font-weight:700;color:#4e7592;letter-spacing:0.242px;">689,1</div>
<div class="t" id="t35" style="left:1052.5px;top:431.79px;font-size:13.6px;font-weight:400;color:#404042;letter-spacing:0.214px;">млн шт.</div>
<div class="t" id="t36" style="left:1155px;top:411.16px;font-size:18.6px;font-weight:700;color:#4e7592;letter-spacing:0.680px;">444,4</div>
<div class="t" id="t37" style="left:1155px;top:431.79px;font-size:13.6px;font-weight:400;color:#404042;letter-spacing:0.255px;">млн шт.</div>
<div class="t" id="t38" style="left:259.8px;top:464.83px;font-size:26.9px;font-weight:700;color:#c49b60;transform:scaleX(0.9705);">МОНЕТИ</div>
<div class="t" id="t39" style="left:266.1px;top:495.27px;font-size:17.4px;font-weight:700;color:#c6a06a;letter-spacing:0.314px;">15,1</div>
<div class="t" id="t40" style="left:309.2px;top:498.26px;font-size:14.1px;font-weight:400;color:#404042;transform:scaleX(0.9863);">млрд шт.</div>
<div class="t" id="t41" style="left:848.75px;top:464.83px;font-size:26.9px;font-weight:700;color:#4e7592;transform:scaleX(0.9906);">БАНКНОТИ</div>
<div class="t" id="t42" style="left:878px;top:495.27px;font-size:17.4px;font-weight:700;color:#4e7592;letter-spacing:0.656px;">2,6</div>
<div class="t" id="t43" style="left:910px;top:498.26px;font-size:14.1px;font-weight:400;color:#404042;transform:scaleX(0.9881);">млрд шт.</div>
<div class="t" id="t44" style="left:47.8px;top:474.20px;font-size:10.4px;font-weight:400;color:#95558a;letter-spacing:0.336px;">Поступово</div>
<div class="t" id="t45" style="left:45.8px;top:487.00px;font-size:10.4px;font-weight:400;color:#95558a;letter-spacing:0.370px;">виводяться</div>
<div class="t" id="t46" style="left:26.1px;top:499.40px;font-size:10.4px;font-weight:400;color:#95558a;letter-spacing:0.241px;">з обігу з 01.10.2025</div>
<div class="t" id="t47" style="left:174.5px;top:526.80px;font-size:10.4px;font-weight:400;color:#95558a;letter-spacing:0.267px;">Перестали бути засобом платежу</div>
<div class="t" id="t48" style="left:460.5px;top:522.70px;font-size:10.4px;font-weight:400;color:#95558a;letter-spacing:0.361px;">Поступово</div>
<div class="t" id="t49" style="left:440px;top:535.70px;font-size:10.4px;font-weight:400;color:#95558a;letter-spacing:0.381px;">виводяться з обігу</div>
<div class="t" id="t50" style="left:885.5px;top:526.80px;font-size:10.4px;font-weight:400;color:#95558a;letter-spacing:0.450px;">Поступово замінюються обіговими монетами</div>
<div class="t" id="t51" style="left:97px;top:584.66px;font-size:18.6px;font-weight:700;color:#c6a06a;letter-spacing:0.492px;">2 428,6</div>
<div class="t" id="t52" style="left:105px;top:604.99px;font-size:13.6px;font-weight:400;color:#404042;letter-spacing:0.255px;">млн шт.</div>
<div class="t" id="t53" style="left:176px;top:584.66px;font-size:18.6px;font-weight:700;color:#c6a06a;letter-spacing:0.159px;">1 391,6</div>
<div class="t" id="t54" style="left:181.75px;top:604.99px;font-size:13.6px;font-weight:400;color:#404042;letter-spacing:0.214px;">млн шт.</div>
<div class="t" id="t55" style="left:264.5px;top:584.66px;font-size:18.6px;font-weight:700;color:#c6a06a;letter-spacing:0.242px;">1 828,6</div>
<div class="t" id="t56" style="left:270.75px;top:604.99px;font-size:13.6px;font-weight:400;color:#404042;letter-spacing:0.214px;">млн шт.</div>
<div class="t" id="t57" style="left:357.5px;top:584.66px;font-size:18.6px;font-weight:700;color:#c6a06a;letter-spacing:0.492px;">1 552,2</div>
<div class="t" id="t58" style="left:365px;top:604.99px;font-size:13.6px;font-weight:400;color:#404042;letter-spacing:0.255px;">млн шт.</div>
<div class="t" id="t59" style="left:462.5px;top:584.66px;font-size:18.6px;font-weight:700;color:#c6a06a;letter-spacing:0.742px;">415,6</div>
<div class="t" id="t60" style="left:462.5px;top:604.99px;font-size:13.6px;font-weight:400;color:#404042;letter-spacing:0.255px;">млн шт.</div>
<div class="t" id="t61" style="left:103px;top:800.87px;font-size:22.6px;font-weight:700;color:#404042;transform:scaleX(0.9506);">16,1<span class="p">%</span></div>
<div class="t" id="t62" style="left:185px;top:770.87px;font-size:22.6px;font-weight:700;color:#404042;transform:scaleX(0.9659);">9,2<span class="p">%</span></div>
<div class="t" id="t63" style="left:268px;top:783.37px;font-size:22.6px;font-weight:700;color:#404042;transform:scaleX(0.9635);">12,1<span class="p">%</span></div>
<div class="t" id="t64" style="left:362.5px;top:775.12px;font-size:22.6px;font-weight:700;color:#404042;transform:scaleX(0.9592);">10,3<span class="p">%</span></div>
<div class="t" id="t65" style="left:465.75px;top:742.37px;font-size:22.6px;font-weight:700;color:#404042;transform:scaleX(0.9659);">2,8<span class="p">%</span></div>
<div class="t" id="t66" style="left:826.25px;top:584.66px;font-size:18.6px;font-weight:700;color:#4e7592;letter-spacing:0.367px;">349,1</div>
<div class="t" id="t67" style="left:826.25px;top:604.99px;font-size:13.6px;font-weight:400;color:#404042;letter-spacing:0.255px;">млн шт.</div>
<div class="t" id="t68" style="left:928.25px;top:584.66px;font-size:18.6px;font-weight:700;color:#4e7592;letter-spacing:0.492px;">138,7</div>
<div class="t" id="t69" style="left:927.5px;top:604.99px;font-size:13.6px;font-weight:400;color:#404042;letter-spacing:0.255px;">млн шт.</div>
<div class="t" id="t70" style="left:1027.5px;top:584.66px;font-size:18.6px;font-weight:700;color:#4e7592;transform:scaleX(1.0047);">109,1</div>
<div class="t" id="t71" style="left:1028.75px;top:604.99px;font-size:13.6px;font-weight:400;color:#404042;letter-spacing:0.255px;">млн шт.</div>
<div class="t" id="t72" style="left:1136px;top:584.66px;font-size:18.6px;font-weight:700;color:#4e7592;letter-spacing:0.599px;">66,6</div>
<div class="t" id="t73" style="left:1130px;top:604.99px;font-size:13.6px;font-weight:400;color:#404042;letter-spacing:0.239px;">млн шт.</div>
<div class="t" id="t74" style="left:823.4px;top:773.77px;font-size:22.6px;font-weight:700;color:#404042;transform:scaleX(0.9739);">13,5<span class="p">%</span></div>
<div class="t" id="t75" style="left:930.6px;top:736.97px;font-size:22.6px;font-weight:700;color:#404042;transform:scaleX(0.9647);">5,3<span class="p">%</span></div>
<div class="t" id="t76" style="left:1032px;top:731.87px;font-size:22.6px;font-weight:700;color:#404042;transform:scaleX(0.9647);">4,2<span class="p">%</span></div>
<div class="t" id="t77" style="left:1132.75px;top:724.97px;font-size:22.6px;font-weight:700;color:#404042;transform:scaleX(0.9769);">2,6<span class="p">%</span></div>
<div class="t" id="t78" style="left:651px;top:549.75px;font-size:29px;font-weight:700;color:#0f7b50;transform:scaleX(0.9506);">191</div>
<div class="t" id="t79" style="left:655.7px;top:578.98px;font-size:14.2px;font-weight:400;color:#404042;transform:scaleX(0.9719);">монет</div>
<div class="t" id="t80" style="left:603px;top:623.13px;font-size:15.8px;font-weight:400;color:#55565a;letter-spacing:0.627px;-webkit-text-stroke:.22px #f6f2ee;">Середня кількість</div>
<div class="t" id="t81" style="left:594.6px;top:643.33px;font-size:15.8px;font-weight:400;color:#55565a;letter-spacing:0.746px;-webkit-text-stroke:.22px #f6f2ee;">банкнот і розмінних</div>
<div class="t" id="t82" style="left:604px;top:663.43px;font-size:15.8px;font-weight:400;color:#55565a;letter-spacing:0.577px;-webkit-text-stroke:.22px #f6f2ee;">та обігових монет,</div>
<div class="t" id="t83" style="left:584.7px;top:683.23px;font-size:15.8px;font-weight:400;color:#55565a;letter-spacing:0.662px;-webkit-text-stroke:.22px #f6f2ee;">що є засобом платежу,</div>
<div class="t" id="t84" style="left:599.6px;top:703.43px;font-size:15.8px;font-weight:400;color:#55565a;letter-spacing:0.744px;-webkit-text-stroke:.22px #f6f2ee;">на одного українця</div>
<div class="t" id="t85" style="left:659px;top:749.85px;font-size:29px;font-weight:700;color:#0f7b50;transform:scaleX(1.0073);">63</div>
<div class="t" id="t86" style="left:644.8px;top:778.58px;font-size:14.2px;font-weight:400;color:#404042;transform:scaleX(1.0104);">банкноти</div>
<div class="t" id="t87" style="left:176.6px;top:837.29px;font-size:16.2px;font-weight:400;color:#48484a;transform:scaleX(0.9624);">Монети номіналами 1, 2, 5 та 25 копійок враховуються у структурі готівкового обігу на період дії правового режиму воєнного стану в Україні</div>
<div class="t" id="t88" style="left:176.6px;top:854.49px;font-size:16.2px;font-weight:400;color:#48484a;transform:scaleX(0.9676);">та протягом 90 днів із дня його припинення чи скасування включно, поки громадяни можуть їх обміняти на&nbsp; монети та банкноти інших</div>
<div class="t" id="t89" style="left:176.6px;top:871.49px;font-size:16.2px;font-weight:400;color:#48484a;transform:scaleX(0.9552);">номіналів, що перебувають в обігу</div>
<div class="t" id="t90" style="left:36px;top:863.20px;font-size:13px;font-weight:700;color:#d9fbe6;transform:scaleX(0.8681);">Національний</div>
<div class="t" id="t91" style="left:36px;top:877.40px;font-size:13px;font-weight:700;color:#d9fbe6;transform:scaleX(0.9671);">банк України</div>
<svg width="1280" height="905" viewBox="0 0 1280 905" style="left:0;top:0"><g><path d="M1030,855.2 H1062 V893.5 L1054.5,887.4 H1030 Z" fill="#9b9b9b"/><circle cx="1039.4" cy="871.6" r="2" fill="#fff"/><circle cx="1046.2" cy="871.6" r="2" fill="#fff"/><circle cx="1053" cy="871.6" r="2" fill="#fff"/><text x="0" y="0" transform="translate(1066.43,894.2) scale(0.940,1)" font-family="Liberation Sans, sans-serif" font-weight="700" font-size="31.5" fill="#fff" stroke="#fff" stroke-width="4.6" stroke-linejoin="round">R</text><text x="0" y="0" transform="translate(1092.64,894.2) scale(0.983,1)" font-family="Liberation Sans, sans-serif" font-weight="700" font-size="31.5" fill="#fff" stroke="#fff" stroke-width="4.6" stroke-linejoin="round">E</text><text x="0" y="0" transform="translate(1117.50,894.2) scale(1.005,1)" font-family="Liberation Sans, sans-serif" font-weight="700" font-size="31.5" fill="#fff" stroke="#fff" stroke-width="4.6" stroke-linejoin="round">T</text><text x="0" y="0" transform="translate(1138.58,894.2) scale(1.028,1)" font-family="Liberation Sans, sans-serif" font-weight="700" font-size="31.5" fill="#fff" stroke="#fff" stroke-width="4.6" stroke-linejoin="round">A</text><text x="0" y="0" transform="translate(1164.97,894.2) scale(1.156,1)" font-family="Liberation Sans, sans-serif" font-weight="700" font-size="31.5" fill="#fff" stroke="#fff" stroke-width="4.6" stroke-linejoin="round">I</text><text x="0" y="0" transform="translate(1177.66,894.2) scale(1.019,1)" font-family="Liberation Sans, sans-serif" font-weight="700" font-size="31.5" fill="#fff" stroke="#fff" stroke-width="4.6" stroke-linejoin="round">L</text><text x="0" y="0" transform="translate(1200.45,894.2) scale(0.977,1)" font-family="Liberation Sans, sans-serif" font-weight="700" font-size="31.5" fill="#fff" stroke="#fff" stroke-width="4.6" stroke-linejoin="round">E</text><text x="0" y="0" transform="translate(1225.11,894.2) scale(0.950,1)" font-family="Liberation Sans, sans-serif" font-weight="700" font-size="31.5" fill="#fff" stroke="#fff" stroke-width="4.6" stroke-linejoin="round">R</text><text x="0" y="0" transform="translate(1251.64,894.2) scale(0.958,1)" font-family="Liberation Sans, sans-serif" font-weight="700" font-size="31.5" fill="#fff" stroke="#fff" stroke-width="4.6" stroke-linejoin="round">S</text><text x="0" y="0" transform="translate(1066.43,894.2) scale(0.940,1)" font-family="Liberation Sans, sans-serif" font-weight="700" font-size="31.5" fill="#d6d6d6" stroke="#d6d6d6" stroke-width="2.4" stroke-linejoin="miter">R</text><text x="0" y="0" transform="translate(1092.64,894.2) scale(0.983,1)" font-family="Liberation Sans, sans-serif" font-weight="700" font-size="31.5" fill="#d6d6d6" stroke="#d6d6d6" stroke-width="2.4" stroke-linejoin="miter">E</text><text x="0" y="0" transform="translate(1117.50,894.2) scale(1.005,1)" font-family="Liberation Sans, sans-serif" font-weight="700" font-size="31.5" fill="#d6d6d6" stroke="#d6d6d6" stroke-width="2.4" stroke-linejoin="miter">T</text><text x="0" y="0" transform="translate(1138.58,894.2) scale(1.028,1)" font-family="Liberation Sans, sans-serif" font-weight="700" font-size="31.5" fill="#d6d6d6" stroke="#d6d6d6" stroke-width="2.4" stroke-linejoin="miter">A</text><text x="0" y="0" transform="translate(1164.97,894.2) scale(1.156,1)" font-family="Liberation Sans, sans-serif" font-weight="700" font-size="31.5" fill="#d6d6d6" stroke="#d6d6d6" stroke-width="2.4" stroke-linejoin="miter">I</text><text x="0" y="0" transform="translate(1177.66,894.2) scale(1.019,1)" font-family="Liberation Sans, sans-serif" font-weight="700" font-size="31.5" fill="#d6d6d6" stroke="#d6d6d6" stroke-width="2.4" stroke-linejoin="miter">L</text><text x="0" y="0" transform="translate(1200.45,894.2) scale(0.977,1)" font-family="Liberation Sans, sans-serif" font-weight="700" font-size="31.5" fill="#d6d6d6" stroke="#d6d6d6" stroke-width="2.4" stroke-linejoin="miter">E</text><text x="0" y="0" transform="translate(1225.11,894.2) scale(0.950,1)" font-family="Liberation Sans, sans-serif" font-weight="700" font-size="31.5" fill="#d6d6d6" stroke="#d6d6d6" stroke-width="2.4" stroke-linejoin="miter">R</text><text x="0" y="0" transform="translate(1251.64,894.2) scale(0.958,1)" font-family="Liberation Sans, sans-serif" font-weight="700" font-size="31.5" fill="#d6d6d6" stroke="#d6d6d6" stroke-width="2.4" stroke-linejoin="miter">S</text></g></svg>
</body></html>
